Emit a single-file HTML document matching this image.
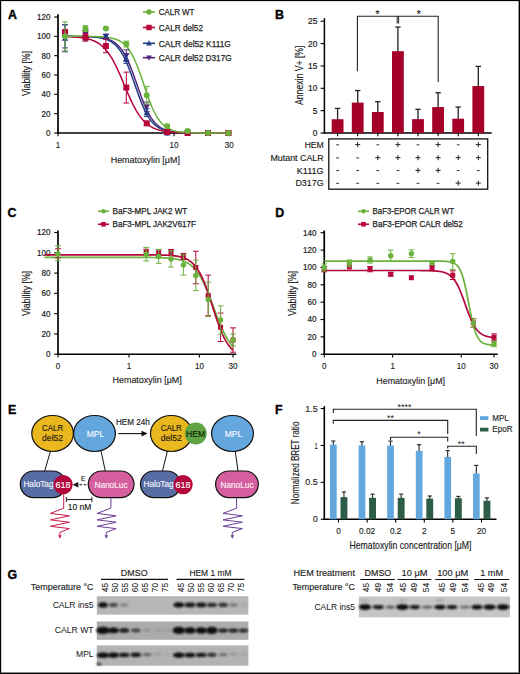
<!DOCTYPE html><html><head><meta charset="utf-8"><style>html,body{margin:0;padding:0;background:#fff;overflow:hidden;}svg{display:block;font-family:"Liberation Sans", sans-serif;}</style></head><body><svg width="520" height="674" viewBox="0 0 520 674" font-family='"Liberation Sans", sans-serif'><defs><filter id="blur" filterUnits="userSpaceOnUse" x="0" y="540" width="520" height="134"><feGaussianBlur stdDeviation="0.95"/></filter></defs><rect width="520" height="674" fill="#fff"/><text x="7.90" y="18.60" font-size="12.4" fill="#000" stroke="#000" stroke-width="0.35" font-weight="bold" >A</text>
<line x1="58.00" y1="14.30" x2="58.00" y2="133.80" stroke="#000" stroke-width="1.7" />
<line x1="57.20" y1="133.00" x2="231.70" y2="133.00" stroke="#000" stroke-width="1.7" />
<line x1="54.20" y1="133.00" x2="58.00" y2="133.00" stroke="#000" stroke-width="1.1" />
<text x="50.40" y="135.95" font-size="8.8" fill="#1c1c1c" stroke="#1c1c1c" stroke-width="0.2" text-anchor="end" textLength="4.50" lengthAdjust="spacingAndGlyphs" >0</text>
<line x1="54.20" y1="113.67" x2="58.00" y2="113.67" stroke="#000" stroke-width="1.1" />
<text x="50.40" y="116.62" font-size="8.8" fill="#1c1c1c" stroke="#1c1c1c" stroke-width="0.2" text-anchor="end" textLength="9.00" lengthAdjust="spacingAndGlyphs" >20</text>
<line x1="54.20" y1="94.33" x2="58.00" y2="94.33" stroke="#000" stroke-width="1.1" />
<text x="50.40" y="97.28" font-size="8.8" fill="#1c1c1c" stroke="#1c1c1c" stroke-width="0.2" text-anchor="end" textLength="9.00" lengthAdjust="spacingAndGlyphs" >40</text>
<line x1="54.20" y1="75.00" x2="58.00" y2="75.00" stroke="#000" stroke-width="1.1" />
<text x="50.40" y="77.95" font-size="8.8" fill="#1c1c1c" stroke="#1c1c1c" stroke-width="0.2" text-anchor="end" textLength="9.00" lengthAdjust="spacingAndGlyphs" >60</text>
<line x1="54.20" y1="55.66" x2="58.00" y2="55.66" stroke="#000" stroke-width="1.1" />
<text x="50.40" y="58.61" font-size="8.8" fill="#1c1c1c" stroke="#1c1c1c" stroke-width="0.2" text-anchor="end" textLength="9.00" lengthAdjust="spacingAndGlyphs" >80</text>
<line x1="54.20" y1="36.33" x2="58.00" y2="36.33" stroke="#000" stroke-width="1.1" />
<text x="50.40" y="39.28" font-size="8.8" fill="#1c1c1c" stroke="#1c1c1c" stroke-width="0.2" text-anchor="end" textLength="13.50" lengthAdjust="spacingAndGlyphs" >100</text>
<line x1="54.20" y1="17.00" x2="58.00" y2="17.00" stroke="#000" stroke-width="1.1" />
<text x="50.40" y="19.95" font-size="8.8" fill="#1c1c1c" stroke="#1c1c1c" stroke-width="0.2" text-anchor="end" textLength="13.50" lengthAdjust="spacingAndGlyphs" >120</text>
<line x1="58.00" y1="133.00" x2="58.00" y2="136.30" stroke="#000" stroke-width="1.1" />
<text x="58.00" y="148.10" font-size="8.8" fill="#1c1c1c" stroke="#1c1c1c" stroke-width="0.15" text-anchor="middle" textLength="4.50" lengthAdjust="spacingAndGlyphs" >1</text>
<line x1="174.00" y1="133.00" x2="174.00" y2="136.30" stroke="#000" stroke-width="1.1" />
<text x="174.00" y="148.10" font-size="8.8" fill="#1c1c1c" stroke="#1c1c1c" stroke-width="0.15" text-anchor="middle" textLength="9.00" lengthAdjust="spacingAndGlyphs" >10</text>
<line x1="229.35" y1="133.00" x2="229.35" y2="136.30" stroke="#000" stroke-width="1.1" />
<text x="229.35" y="148.10" font-size="8.8" fill="#1c1c1c" stroke="#1c1c1c" stroke-width="0.15" text-anchor="middle" textLength="9.00" lengthAdjust="spacingAndGlyphs" >30</text>
<text x="110.70" y="162.70" font-size="9.8" fill="#1c1c1c" stroke="#1c1c1c" stroke-width="0.15" textLength="69.20" lengthAdjust="spacingAndGlyphs" >Hematoxylin [μM]</text>
<text x="30.30" y="73.50" font-size="11" fill="#1c1c1c" stroke="#1c1c1c" stroke-width="0.15" text-anchor="middle" textLength="45.20" lengthAdjust="spacingAndGlyphs" transform="rotate(-90 30.30 73.50)" >Viability [%]</text>
<path d="M65.04,36.35 L66.06,36.35 L67.08,36.35 L68.11,36.36 L69.13,36.36 L70.15,36.36 L71.17,36.37 L72.19,36.37 L73.21,36.38 L74.24,36.38 L75.26,36.39 L76.28,36.40 L77.30,36.41 L78.32,36.42 L79.34,36.43 L80.37,36.44 L81.39,36.46 L82.41,36.47 L83.43,36.49 L84.45,36.51 L85.47,36.54 L86.49,36.56 L87.52,36.60 L88.54,36.63 L89.56,36.67 L90.58,36.71 L91.60,36.76 L92.62,36.82 L93.65,36.88 L94.67,36.95 L95.69,37.03 L96.71,37.12 L97.73,37.22 L98.75,37.33 L99.78,37.46 L100.80,37.61 L101.82,37.77 L102.84,37.95 L103.86,38.16 L104.88,38.39 L105.91,38.65 L106.93,38.94 L107.95,39.27 L108.97,39.63 L109.99,40.05 L111.01,40.51 L112.04,41.02 L113.06,41.59 L114.08,42.23 L115.10,42.94 L116.12,43.74 L117.14,44.61 L118.16,45.58 L119.19,46.65 L120.21,47.83 L121.23,49.12 L122.25,50.53 L123.27,52.07 L124.29,53.73 L125.32,55.54 L126.34,57.48 L127.36,59.56 L128.38,61.77 L129.40,64.12 L130.42,66.59 L131.45,69.18 L132.47,71.86 L133.49,74.64 L134.51,77.48 L135.53,80.38 L136.55,83.31 L137.58,86.25 L138.60,89.18 L139.62,92.07 L140.64,94.92 L141.66,97.69 L142.68,100.37 L143.71,102.94 L144.73,105.40 L145.75,107.74 L146.77,109.94 L147.79,112.01 L148.81,113.94 L149.83,115.73 L150.86,117.39 L151.88,118.92 L152.90,120.32 L153.92,121.60 L154.94,122.77 L155.96,123.83 L156.99,124.79 L158.01,125.66 L159.03,126.44 L160.05,127.15 L161.07,127.78 L162.09,128.35 L163.12,128.86 L164.14,129.32 L165.16,129.73 L166.18,130.09 L167.20,130.41 L168.22,130.70 L169.25,130.96 L170.27,131.19 L171.29,131.39 L172.31,131.58 L173.33,131.74 L174.35,131.88 L175.38,132.01 L176.40,132.12 L177.42,132.22 L178.44,132.31 L179.46,132.39 L180.48,132.46 L181.51,132.52 L182.53,132.57 L183.55,132.62 L184.57,132.67 L185.59,132.70 L186.61,132.74 L187.63,132.77 L188.66,132.79 L189.68,132.82 L190.70,132.84 L191.72,132.86 L192.74,132.87 L193.76,132.89 L194.79,132.90 L195.81,132.91 L196.83,132.92 L197.85,132.93 L198.87,132.94 L199.89,132.95 L200.92,132.95 L201.94,132.96 L202.96,132.96 L203.98,132.97 L205.00,132.97 L206.02,132.97 L207.05,132.98 L208.07,132.98 L209.09,132.98 L210.11,132.98 L211.13,132.99 L212.15,132.99 L213.18,132.99 L214.20,132.99 L215.22,132.99 L216.24,132.99 L217.26,132.99 L218.28,132.99 L219.30,132.99 L220.33,133.00 L221.35,133.00 L222.37,133.00 L223.39,133.00 L224.41,133.00 L225.43,133.00 L226.46,133.00 L227.48,133.00 L228.50,133.00" stroke="#55287e" stroke-width="1.5" fill="none" />
<path d="M65.04,36.35 L66.06,36.36 L67.08,36.36 L68.11,36.36 L69.13,36.37 L70.15,36.37 L71.17,36.38 L72.19,36.39 L73.21,36.39 L74.24,36.40 L75.26,36.41 L76.28,36.42 L77.30,36.43 L78.32,36.44 L79.34,36.46 L80.37,36.48 L81.39,36.50 L82.41,36.52 L83.43,36.54 L84.45,36.57 L85.47,36.60 L86.49,36.63 L87.52,36.67 L88.54,36.72 L89.56,36.77 L90.58,36.82 L91.60,36.89 L92.62,36.96 L93.65,37.04 L94.67,37.13 L95.69,37.23 L96.71,37.34 L97.73,37.47 L98.75,37.62 L99.78,37.79 L100.80,37.97 L101.82,38.18 L102.84,38.41 L103.86,38.68 L104.88,38.97 L105.91,39.30 L106.93,39.67 L107.95,40.09 L108.97,40.55 L109.99,41.07 L111.01,41.65 L112.04,42.30 L113.06,43.02 L114.08,43.82 L115.10,44.70 L116.12,45.68 L117.14,46.76 L118.16,47.95 L119.19,49.25 L120.21,50.67 L121.23,52.22 L122.25,53.91 L123.27,55.72 L124.29,57.68 L125.32,59.77 L126.34,62.00 L127.36,64.36 L128.38,66.84 L129.40,69.44 L130.42,72.13 L131.45,74.92 L132.47,77.77 L133.49,80.67 L134.51,83.60 L135.53,86.54 L136.55,89.47 L137.58,92.36 L138.60,95.19 L139.62,97.95 L140.64,100.62 L141.66,103.19 L142.68,105.64 L143.71,107.96 L144.73,110.15 L145.75,112.21 L146.77,114.12 L147.79,115.90 L148.81,117.55 L149.83,119.06 L150.86,120.45 L151.88,121.72 L152.90,122.88 L153.92,123.93 L154.94,124.88 L155.96,125.74 L156.99,126.52 L158.01,127.22 L159.03,127.84 L160.05,128.41 L161.07,128.91 L162.09,129.36 L163.12,129.76 L164.14,130.12 L165.16,130.44 L166.18,130.73 L167.20,130.98 L168.22,131.21 L169.25,131.41 L170.27,131.59 L171.29,131.75 L172.31,131.89 L173.33,132.02 L174.35,132.13 L175.38,132.23 L176.40,132.32 L177.42,132.39 L178.44,132.46 L179.46,132.52 L180.48,132.58 L181.51,132.63 L182.53,132.67 L183.55,132.71 L184.57,132.74 L185.59,132.77 L186.61,132.80 L187.63,132.82 L188.66,132.84 L189.68,132.86 L190.70,132.87 L191.72,132.89 L192.74,132.90 L193.76,132.91 L194.79,132.92 L195.81,132.93 L196.83,132.94 L197.85,132.95 L198.87,132.95 L199.89,132.96 L200.92,132.96 L201.94,132.97 L202.96,132.97 L203.98,132.97 L205.00,132.98 L206.02,132.98 L207.05,132.98 L208.07,132.98 L209.09,132.99 L210.11,132.99 L211.13,132.99 L212.15,132.99 L213.18,132.99 L214.20,132.99 L215.22,132.99 L216.24,132.99 L217.26,132.99 L218.28,133.00 L219.30,133.00 L220.33,133.00 L221.35,133.00 L222.37,133.00 L223.39,133.00 L224.41,133.00 L225.43,133.00 L226.46,133.00 L227.48,133.00 L228.50,133.00" stroke="#243f88" stroke-width="1.5" fill="none" />
<path d="M65.04,36.60 L66.06,36.63 L67.08,36.66 L68.11,36.70 L69.13,36.74 L70.15,36.78 L71.17,36.83 L72.19,36.88 L73.21,36.94 L74.24,37.01 L75.26,37.08 L76.28,37.16 L77.30,37.24 L78.32,37.34 L79.34,37.45 L80.37,37.56 L81.39,37.69 L82.41,37.84 L83.43,37.99 L84.45,38.17 L85.47,38.36 L86.49,38.57 L87.52,38.81 L88.54,39.06 L89.56,39.34 L90.58,39.65 L91.60,40.00 L92.62,40.37 L93.65,40.78 L94.67,41.23 L95.69,41.73 L96.71,42.27 L97.73,42.86 L98.75,43.50 L99.78,44.21 L100.80,44.97 L101.82,45.80 L102.84,46.71 L103.86,47.68 L104.88,48.74 L105.91,49.88 L106.93,51.10 L107.95,52.42 L108.97,53.82 L109.99,55.32 L111.01,56.92 L112.04,58.61 L113.06,60.40 L114.08,62.27 L115.10,64.24 L116.12,66.30 L117.14,68.43 L118.16,70.64 L119.19,72.92 L120.21,75.25 L121.23,77.63 L122.25,80.05 L123.27,82.48 L124.29,84.93 L125.32,87.38 L126.34,89.81 L127.36,92.22 L128.38,94.59 L129.40,96.91 L130.42,99.17 L131.45,101.37 L132.47,103.49 L133.49,105.52 L134.51,107.47 L135.53,109.33 L136.55,111.10 L137.58,112.77 L138.60,114.34 L139.62,115.82 L140.64,117.21 L141.66,118.50 L142.68,119.71 L143.71,120.83 L144.73,121.87 L145.75,122.83 L146.77,123.71 L147.79,124.53 L148.81,125.28 L149.83,125.97 L150.86,126.60 L151.88,127.18 L152.90,127.71 L153.92,128.20 L154.94,128.64 L155.96,129.04 L156.99,129.41 L158.01,129.75 L159.03,130.05 L160.05,130.33 L161.07,130.58 L162.09,130.81 L163.12,131.01 L164.14,131.20 L165.16,131.37 L166.18,131.53 L167.20,131.67 L168.22,131.79 L169.25,131.91 L170.27,132.01 L171.29,132.11 L172.31,132.19 L173.33,132.27 L174.35,132.34 L175.38,132.40 L176.40,132.46 L177.42,132.51 L178.44,132.56 L179.46,132.60 L180.48,132.64 L181.51,132.67 L182.53,132.71 L183.55,132.73 L184.57,132.76 L185.59,132.78 L186.61,132.80 L187.63,132.82 L188.66,132.84 L189.68,132.85 L190.70,132.87 L191.72,132.88 L192.74,132.89 L193.76,132.90 L194.79,132.91 L195.81,132.92 L196.83,132.93 L197.85,132.94 L198.87,132.94 L199.89,132.95 L200.92,132.95 L201.94,132.96 L202.96,132.96 L203.98,132.96 L205.00,132.97 L206.02,132.97 L207.05,132.97 L208.07,132.98 L209.09,132.98 L210.11,132.98 L211.13,132.98 L212.15,132.98 L213.18,132.99 L214.20,132.99 L215.22,132.99 L216.24,132.99 L217.26,132.99 L218.28,132.99 L219.30,132.99 L220.33,132.99 L221.35,132.99 L222.37,132.99 L223.39,132.99 L224.41,133.00 L225.43,133.00 L226.46,133.00 L227.48,133.00 L228.50,133.00" stroke="#b5053a" stroke-width="1.5" fill="none" />
<path d="M65.04,36.34 L66.06,36.34 L67.08,36.34 L68.11,36.34 L69.13,36.34 L70.15,36.34 L71.17,36.34 L72.19,36.34 L73.21,36.35 L74.24,36.35 L75.26,36.35 L76.28,36.35 L77.30,36.36 L78.32,36.36 L79.34,36.36 L80.37,36.37 L81.39,36.37 L82.41,36.38 L83.43,36.39 L84.45,36.39 L85.47,36.40 L86.49,36.41 L87.52,36.42 L88.54,36.44 L89.56,36.45 L90.58,36.47 L91.60,36.49 L92.62,36.51 L93.65,36.53 L94.67,36.56 L95.69,36.59 L96.71,36.62 L97.73,36.66 L98.75,36.70 L99.78,36.75 L100.80,36.81 L101.82,36.87 L102.84,36.95 L103.86,37.03 L104.88,37.12 L105.91,37.22 L106.93,37.34 L107.95,37.48 L108.97,37.63 L109.99,37.80 L111.01,37.99 L112.04,38.21 L113.06,38.46 L114.08,38.74 L115.10,39.05 L116.12,39.40 L117.14,39.80 L118.16,40.25 L119.19,40.75 L120.21,41.31 L121.23,41.94 L122.25,42.64 L123.27,43.42 L124.29,44.29 L125.32,45.26 L126.34,46.33 L127.36,47.52 L128.38,48.82 L129.40,50.26 L130.42,51.82 L131.45,53.53 L132.47,55.38 L133.49,57.38 L134.51,59.52 L135.53,61.81 L136.55,64.24 L137.58,66.80 L138.60,69.48 L139.62,72.27 L140.64,75.15 L141.66,78.10 L142.68,81.11 L143.71,84.14 L144.73,87.18 L145.75,90.19 L146.77,93.17 L147.79,96.07 L148.81,98.90 L149.83,101.62 L150.86,104.22 L151.88,106.70 L152.90,109.03 L153.92,111.23 L154.94,113.28 L155.96,115.18 L156.99,116.93 L158.01,118.55 L159.03,120.03 L160.05,121.37 L161.07,122.60 L162.09,123.71 L163.12,124.71 L164.14,125.62 L165.16,126.43 L166.18,127.16 L167.20,127.81 L168.22,128.40 L169.25,128.92 L170.27,129.38 L171.29,129.80 L172.31,130.16 L173.33,130.49 L174.35,130.78 L175.38,131.04 L176.40,131.26 L177.42,131.47 L178.44,131.64 L179.46,131.80 L180.48,131.94 L181.51,132.07 L182.53,132.18 L183.55,132.27 L184.57,132.36 L185.59,132.43 L186.61,132.50 L187.63,132.56 L188.66,132.61 L189.68,132.66 L190.70,132.70 L191.72,132.73 L192.74,132.76 L193.76,132.79 L194.79,132.82 L195.81,132.84 L196.83,132.86 L197.85,132.87 L198.87,132.89 L199.89,132.90 L200.92,132.91 L201.94,132.92 L202.96,132.93 L203.98,132.94 L205.00,132.95 L206.02,132.95 L207.05,132.96 L208.07,132.96 L209.09,132.97 L210.11,132.97 L211.13,132.98 L212.15,132.98 L213.18,132.98 L214.20,132.98 L215.22,132.99 L216.24,132.99 L217.26,132.99 L218.28,132.99 L219.30,132.99 L220.33,132.99 L221.35,132.99 L222.37,132.99 L223.39,132.99 L224.41,133.00 L225.43,133.00 L226.46,133.00 L227.48,133.00 L228.50,133.00" stroke="#6ab23c" stroke-width="1.5" fill="none" />
<line x1="65.04" y1="24.73" x2="65.04" y2="47.93" stroke="#55287e" stroke-width="1.0" />
<line x1="62.14" y1="24.73" x2="67.94" y2="24.73" stroke="#55287e" stroke-width="1.0" />
<line x1="62.14" y1="47.93" x2="67.94" y2="47.93" stroke="#55287e" stroke-width="1.0" />
<polygon points="65.04,39.63 68.19,33.78 61.89,33.78" fill="#55287e"/>
<line x1="85.47" y1="30.53" x2="85.47" y2="38.26" stroke="#55287e" stroke-width="1.0" />
<line x1="82.57" y1="30.53" x2="88.37" y2="30.53" stroke="#55287e" stroke-width="1.0" />
<line x1="82.57" y1="38.26" x2="88.37" y2="38.26" stroke="#55287e" stroke-width="1.0" />
<polygon points="85.47,37.70 88.62,31.85 82.32,31.85" fill="#55287e"/>
<line x1="105.89" y1="34.40" x2="105.89" y2="38.26" stroke="#55287e" stroke-width="1.0" />
<line x1="102.99" y1="34.40" x2="108.79" y2="34.40" stroke="#55287e" stroke-width="1.0" />
<line x1="102.99" y1="38.26" x2="108.79" y2="38.26" stroke="#55287e" stroke-width="1.0" />
<polygon points="105.89,39.63 109.04,33.78 102.74,33.78" fill="#55287e"/>
<line x1="126.32" y1="49.86" x2="126.32" y2="61.46" stroke="#55287e" stroke-width="1.0" />
<line x1="123.42" y1="49.86" x2="129.22" y2="49.86" stroke="#55287e" stroke-width="1.0" />
<line x1="123.42" y1="61.46" x2="129.22" y2="61.46" stroke="#55287e" stroke-width="1.0" />
<polygon points="126.32,58.96 129.47,53.11 123.17,53.11" fill="#55287e"/>
<line x1="146.75" y1="102.07" x2="146.75" y2="111.73" stroke="#55287e" stroke-width="1.0" />
<line x1="143.85" y1="102.07" x2="149.65" y2="102.07" stroke="#55287e" stroke-width="1.0" />
<line x1="143.85" y1="111.73" x2="149.65" y2="111.73" stroke="#55287e" stroke-width="1.0" />
<polygon points="146.75,110.20 149.90,104.35 143.60,104.35" fill="#55287e"/>
<line x1="167.17" y1="132.03" x2="167.17" y2="133.97" stroke="#55287e" stroke-width="1.0" />
<line x1="164.27" y1="132.03" x2="170.07" y2="132.03" stroke="#55287e" stroke-width="1.0" />
<line x1="164.27" y1="133.97" x2="170.07" y2="133.97" stroke="#55287e" stroke-width="1.0" />
<polygon points="167.17,136.30 170.32,130.45 164.02,130.45" fill="#55287e"/>
<polygon points="187.60,136.30 190.75,130.45 184.45,130.45" fill="#55287e"/>
<polygon points="208.03,136.30 211.18,130.45 204.88,130.45" fill="#55287e"/>
<polygon points="228.45,136.30 231.60,130.45 225.30,130.45" fill="#55287e"/>
<line x1="65.04" y1="24.73" x2="65.04" y2="51.80" stroke="#243f88" stroke-width="1.0" />
<line x1="62.14" y1="24.73" x2="67.94" y2="24.73" stroke="#243f88" stroke-width="1.0" />
<line x1="62.14" y1="51.80" x2="67.94" y2="51.80" stroke="#243f88" stroke-width="1.0" />
<polygon points="65.04,34.96 68.19,40.81 61.89,40.81" fill="#243f88"/>
<line x1="85.47" y1="30.53" x2="85.47" y2="40.20" stroke="#243f88" stroke-width="1.0" />
<line x1="82.57" y1="30.53" x2="88.37" y2="30.53" stroke="#243f88" stroke-width="1.0" />
<line x1="82.57" y1="40.20" x2="88.37" y2="40.20" stroke="#243f88" stroke-width="1.0" />
<polygon points="85.47,32.06 88.62,37.91 82.32,37.91" fill="#243f88"/>
<line x1="105.89" y1="34.40" x2="105.89" y2="38.26" stroke="#243f88" stroke-width="1.0" />
<line x1="102.99" y1="34.40" x2="108.79" y2="34.40" stroke="#243f88" stroke-width="1.0" />
<line x1="102.99" y1="38.26" x2="108.79" y2="38.26" stroke="#243f88" stroke-width="1.0" />
<polygon points="105.89,33.03 109.04,38.88 102.74,38.88" fill="#243f88"/>
<line x1="126.32" y1="53.73" x2="126.32" y2="63.40" stroke="#243f88" stroke-width="1.0" />
<line x1="123.42" y1="53.73" x2="129.22" y2="53.73" stroke="#243f88" stroke-width="1.0" />
<line x1="123.42" y1="63.40" x2="129.22" y2="63.40" stroke="#243f88" stroke-width="1.0" />
<polygon points="126.32,55.26 129.47,61.11 123.17,61.11" fill="#243f88"/>
<line x1="146.75" y1="108.83" x2="146.75" y2="116.57" stroke="#243f88" stroke-width="1.0" />
<line x1="143.85" y1="108.83" x2="149.65" y2="108.83" stroke="#243f88" stroke-width="1.0" />
<line x1="143.85" y1="116.57" x2="149.65" y2="116.57" stroke="#243f88" stroke-width="1.0" />
<polygon points="146.75,109.40 149.90,115.25 143.60,115.25" fill="#243f88"/>
<line x1="167.17" y1="132.03" x2="167.17" y2="133.97" stroke="#243f88" stroke-width="1.0" />
<line x1="164.27" y1="132.03" x2="170.07" y2="132.03" stroke="#243f88" stroke-width="1.0" />
<line x1="164.27" y1="133.97" x2="170.07" y2="133.97" stroke="#243f88" stroke-width="1.0" />
<polygon points="167.17,129.70 170.32,135.55 164.02,135.55" fill="#243f88"/>
<polygon points="187.60,129.70 190.75,135.55 184.45,135.55" fill="#243f88"/>
<polygon points="208.03,129.70 211.18,135.55 204.88,135.55" fill="#243f88"/>
<polygon points="228.45,129.70 231.60,135.55 225.30,135.55" fill="#243f88"/>
<line x1="65.04" y1="29.56" x2="65.04" y2="35.36" stroke="#b5053a" stroke-width="1.0" />
<line x1="62.14" y1="29.56" x2="67.94" y2="29.56" stroke="#b5053a" stroke-width="1.0" />
<line x1="62.14" y1="35.36" x2="67.94" y2="35.36" stroke="#b5053a" stroke-width="1.0" />
<rect x="62.04" y="29.46" width="6.00" height="6.00" fill="#b5053a" />
<line x1="85.47" y1="33.43" x2="85.47" y2="41.16" stroke="#b5053a" stroke-width="1.0" />
<line x1="82.57" y1="33.43" x2="88.37" y2="33.43" stroke="#b5053a" stroke-width="1.0" />
<line x1="82.57" y1="41.16" x2="88.37" y2="41.16" stroke="#b5053a" stroke-width="1.0" />
<rect x="82.47" y="34.30" width="6.00" height="6.00" fill="#b5053a" />
<line x1="105.89" y1="39.23" x2="105.89" y2="52.76" stroke="#b5053a" stroke-width="1.0" />
<line x1="102.99" y1="39.23" x2="108.79" y2="39.23" stroke="#b5053a" stroke-width="1.0" />
<line x1="102.99" y1="52.76" x2="108.79" y2="52.76" stroke="#b5053a" stroke-width="1.0" />
<rect x="102.89" y="43.00" width="6.00" height="6.00" fill="#b5053a" />
<line x1="126.32" y1="72.10" x2="126.32" y2="103.03" stroke="#b5053a" stroke-width="1.0" />
<line x1="123.42" y1="72.10" x2="129.22" y2="72.10" stroke="#b5053a" stroke-width="1.0" />
<line x1="123.42" y1="103.03" x2="129.22" y2="103.03" stroke="#b5053a" stroke-width="1.0" />
<rect x="123.32" y="84.57" width="6.00" height="6.00" fill="#b5053a" />
<line x1="146.75" y1="121.40" x2="146.75" y2="125.27" stroke="#b5053a" stroke-width="1.0" />
<line x1="143.85" y1="121.40" x2="149.65" y2="121.40" stroke="#b5053a" stroke-width="1.0" />
<line x1="143.85" y1="125.27" x2="149.65" y2="125.27" stroke="#b5053a" stroke-width="1.0" />
<rect x="143.75" y="120.33" width="6.00" height="6.00" fill="#b5053a" />
<line x1="167.17" y1="131.07" x2="167.17" y2="133.00" stroke="#b5053a" stroke-width="1.0" />
<line x1="164.27" y1="131.07" x2="170.07" y2="131.07" stroke="#b5053a" stroke-width="1.0" />
<line x1="164.27" y1="133.00" x2="170.07" y2="133.00" stroke="#b5053a" stroke-width="1.0" />
<rect x="164.17" y="129.03" width="6.00" height="6.00" fill="#b5053a" />
<rect x="184.60" y="130.00" width="6.00" height="6.00" fill="#b5053a" />
<rect x="205.03" y="130.00" width="6.00" height="6.00" fill="#b5053a" />
<rect x="225.45" y="130.00" width="6.00" height="6.00" fill="#b5053a" />
<line x1="65.04" y1="21.83" x2="65.04" y2="50.83" stroke="#6ab23c" stroke-width="1.0" />
<line x1="62.14" y1="21.83" x2="67.94" y2="21.83" stroke="#6ab23c" stroke-width="1.0" />
<line x1="62.14" y1="50.83" x2="67.94" y2="50.83" stroke="#6ab23c" stroke-width="1.0" />
<circle cx="65.04" cy="36.33" r="3.00" fill="#6ab23c"/>
<line x1="85.47" y1="25.70" x2="85.47" y2="31.50" stroke="#6ab23c" stroke-width="1.0" />
<line x1="82.57" y1="25.70" x2="88.37" y2="25.70" stroke="#6ab23c" stroke-width="1.0" />
<line x1="82.57" y1="31.50" x2="88.37" y2="31.50" stroke="#6ab23c" stroke-width="1.0" />
<circle cx="85.47" cy="28.60" r="3.00" fill="#6ab23c"/>
<line x1="105.89" y1="27.63" x2="105.89" y2="29.56" stroke="#6ab23c" stroke-width="1.0" />
<line x1="102.99" y1="27.63" x2="108.79" y2="27.63" stroke="#6ab23c" stroke-width="1.0" />
<line x1="102.99" y1="29.56" x2="108.79" y2="29.56" stroke="#6ab23c" stroke-width="1.0" />
<circle cx="105.89" cy="28.60" r="3.00" fill="#6ab23c"/>
<line x1="126.32" y1="41.16" x2="126.32" y2="46.96" stroke="#6ab23c" stroke-width="1.0" />
<line x1="123.42" y1="41.16" x2="129.22" y2="41.16" stroke="#6ab23c" stroke-width="1.0" />
<line x1="123.42" y1="46.96" x2="129.22" y2="46.96" stroke="#6ab23c" stroke-width="1.0" />
<circle cx="126.32" cy="44.06" r="3.00" fill="#6ab23c"/>
<line x1="146.75" y1="86.60" x2="146.75" y2="104.00" stroke="#6ab23c" stroke-width="1.0" />
<line x1="143.85" y1="86.60" x2="149.65" y2="86.60" stroke="#6ab23c" stroke-width="1.0" />
<line x1="143.85" y1="104.00" x2="149.65" y2="104.00" stroke="#6ab23c" stroke-width="1.0" />
<circle cx="146.75" cy="95.30" r="3.00" fill="#6ab23c"/>
<line x1="167.17" y1="124.30" x2="167.17" y2="128.17" stroke="#6ab23c" stroke-width="1.0" />
<line x1="164.27" y1="124.30" x2="170.07" y2="124.30" stroke="#6ab23c" stroke-width="1.0" />
<line x1="164.27" y1="128.17" x2="170.07" y2="128.17" stroke="#6ab23c" stroke-width="1.0" />
<circle cx="167.17" cy="126.23" r="3.00" fill="#6ab23c"/>
<line x1="187.60" y1="130.10" x2="187.60" y2="132.03" stroke="#6ab23c" stroke-width="1.0" />
<line x1="184.70" y1="130.10" x2="190.50" y2="130.10" stroke="#6ab23c" stroke-width="1.0" />
<line x1="184.70" y1="132.03" x2="190.50" y2="132.03" stroke="#6ab23c" stroke-width="1.0" />
<circle cx="187.60" cy="131.07" r="3.00" fill="#6ab23c"/>
<circle cx="208.03" cy="133.00" r="3.00" fill="#6ab23c"/>
<circle cx="228.45" cy="133.00" r="3.00" fill="#6ab23c"/>
<line x1="142.90" y1="11.90" x2="155.00" y2="11.90" stroke="#6ab23c" stroke-width="1.6" />
<circle cx="149.00" cy="11.90" r="2.70" fill="#6ab23c"/>
<text x="158.80" y="15.30" font-size="9.4" fill="#1e1e1e" stroke="#1e1e1e" stroke-width="0.25" textLength="35.60" lengthAdjust="spacingAndGlyphs" >CALR WT</text>
<line x1="142.90" y1="27.50" x2="155.00" y2="27.50" stroke="#b5053a" stroke-width="1.6" />
<rect x="146.30" y="24.80" width="5.40" height="5.40" fill="#b5053a" />
<text x="158.80" y="30.90" font-size="9.4" fill="#1e1e1e" stroke="#1e1e1e" stroke-width="0.25" textLength="44.20" lengthAdjust="spacingAndGlyphs" >CALR del52</text>
<line x1="142.90" y1="43.30" x2="155.00" y2="43.30" stroke="#243f88" stroke-width="1.6" />
<polygon points="149.00,40.33 151.84,45.59 146.16,45.59" fill="#243f88"/>
<text x="158.80" y="46.70" font-size="9.4" fill="#1e1e1e" stroke="#1e1e1e" stroke-width="0.25" textLength="72.00" lengthAdjust="spacingAndGlyphs" >CALR del52 K111G</text>
<line x1="142.90" y1="57.70" x2="155.00" y2="57.70" stroke="#55287e" stroke-width="1.6" />
<polygon points="149.00,60.67 151.84,55.41 146.16,55.41" fill="#55287e"/>
<text x="158.80" y="61.10" font-size="9.4" fill="#1e1e1e" stroke="#1e1e1e" stroke-width="0.25" textLength="72.90" lengthAdjust="spacingAndGlyphs" >CALR del52 D317G</text>
<text x="275.00" y="18.60" font-size="12.4" fill="#000" stroke="#000" stroke-width="0.35" font-weight="bold" >B</text>
<line x1="324.40" y1="18.20" x2="324.40" y2="133.80" stroke="#000" stroke-width="1.5" />
<line x1="323.70" y1="133.00" x2="491.70" y2="133.00" stroke="#000" stroke-width="1.6" />
<line x1="320.60" y1="133.00" x2="324.40" y2="133.00" stroke="#000" stroke-width="1.1" />
<text x="317.30" y="135.95" font-size="8.6" fill="#1c1c1c" stroke="#1c1c1c" stroke-width="0.2" text-anchor="end" textLength="4.65" lengthAdjust="spacingAndGlyphs" >0</text>
<line x1="320.60" y1="110.65" x2="324.40" y2="110.65" stroke="#000" stroke-width="1.1" />
<text x="317.30" y="113.60" font-size="8.6" fill="#1c1c1c" stroke="#1c1c1c" stroke-width="0.2" text-anchor="end" textLength="4.65" lengthAdjust="spacingAndGlyphs" >5</text>
<line x1="320.60" y1="88.30" x2="324.40" y2="88.30" stroke="#000" stroke-width="1.1" />
<text x="317.30" y="91.25" font-size="8.6" fill="#1c1c1c" stroke="#1c1c1c" stroke-width="0.2" text-anchor="end" textLength="9.30" lengthAdjust="spacingAndGlyphs" >10</text>
<line x1="320.60" y1="65.95" x2="324.40" y2="65.95" stroke="#000" stroke-width="1.1" />
<text x="317.30" y="68.90" font-size="8.6" fill="#1c1c1c" stroke="#1c1c1c" stroke-width="0.2" text-anchor="end" textLength="9.30" lengthAdjust="spacingAndGlyphs" >15</text>
<line x1="320.60" y1="43.60" x2="324.40" y2="43.60" stroke="#000" stroke-width="1.1" />
<text x="317.30" y="46.55" font-size="8.6" fill="#1c1c1c" stroke="#1c1c1c" stroke-width="0.2" text-anchor="end" textLength="9.30" lengthAdjust="spacingAndGlyphs" >20</text>
<line x1="320.60" y1="21.25" x2="324.40" y2="21.25" stroke="#000" stroke-width="1.1" />
<text x="317.30" y="24.20" font-size="8.6" fill="#1c1c1c" stroke="#1c1c1c" stroke-width="0.2" text-anchor="end" textLength="9.30" lengthAdjust="spacingAndGlyphs" >25</text>
<line x1="337.60" y1="108.42" x2="337.60" y2="120.23" stroke="#222" stroke-width="1.3" />
<line x1="334.90" y1="108.42" x2="340.30" y2="108.42" stroke="#222" stroke-width="1.3" />
<rect x="331.70" y="119.23" width="11.80" height="13.77" fill="#a50028" />
<line x1="337.60" y1="133.00" x2="337.60" y2="136.20" stroke="#000" stroke-width="1.1" />
<line x1="357.70" y1="90.53" x2="357.70" y2="103.60" stroke="#222" stroke-width="1.3" />
<line x1="355.00" y1="90.53" x2="360.40" y2="90.53" stroke="#222" stroke-width="1.3" />
<rect x="351.80" y="102.60" width="11.80" height="30.40" fill="#a50028" />
<line x1="357.70" y1="133.00" x2="357.70" y2="136.20" stroke="#000" stroke-width="1.1" />
<line x1="377.80" y1="101.71" x2="377.80" y2="112.99" stroke="#222" stroke-width="1.3" />
<line x1="375.10" y1="101.71" x2="380.50" y2="101.71" stroke="#222" stroke-width="1.3" />
<rect x="371.90" y="111.99" width="11.80" height="21.01" fill="#a50028" />
<line x1="377.80" y1="133.00" x2="377.80" y2="136.20" stroke="#000" stroke-width="1.1" />
<line x1="397.90" y1="27.06" x2="397.90" y2="52.20" stroke="#222" stroke-width="1.3" />
<line x1="395.20" y1="27.06" x2="400.60" y2="27.06" stroke="#222" stroke-width="1.3" />
<rect x="392.00" y="51.20" width="11.80" height="81.80" fill="#a50028" />
<line x1="397.90" y1="133.00" x2="397.90" y2="136.20" stroke="#000" stroke-width="1.1" />
<line x1="418.00" y1="109.31" x2="418.00" y2="120.14" stroke="#222" stroke-width="1.3" />
<line x1="415.30" y1="109.31" x2="420.70" y2="109.31" stroke="#222" stroke-width="1.3" />
<rect x="412.10" y="119.14" width="11.80" height="13.86" fill="#a50028" />
<line x1="418.00" y1="133.00" x2="418.00" y2="136.20" stroke="#000" stroke-width="1.1" />
<line x1="438.10" y1="92.77" x2="438.10" y2="108.07" stroke="#222" stroke-width="1.3" />
<line x1="435.40" y1="92.77" x2="440.80" y2="92.77" stroke="#222" stroke-width="1.3" />
<rect x="432.20" y="107.07" width="11.80" height="25.93" fill="#a50028" />
<line x1="438.10" y1="133.00" x2="438.10" y2="136.20" stroke="#000" stroke-width="1.1" />
<line x1="458.20" y1="107.07" x2="458.20" y2="119.70" stroke="#222" stroke-width="1.3" />
<line x1="455.50" y1="107.07" x2="460.90" y2="107.07" stroke="#222" stroke-width="1.3" />
<rect x="452.30" y="118.70" width="11.80" height="14.30" fill="#a50028" />
<line x1="458.20" y1="133.00" x2="458.20" y2="136.20" stroke="#000" stroke-width="1.1" />
<line x1="478.30" y1="66.40" x2="478.30" y2="87.06" stroke="#222" stroke-width="1.3" />
<line x1="475.60" y1="66.40" x2="481.00" y2="66.40" stroke="#222" stroke-width="1.3" />
<rect x="472.40" y="86.06" width="11.80" height="46.94" fill="#a50028" />
<line x1="478.30" y1="133.00" x2="478.30" y2="136.20" stroke="#000" stroke-width="1.1" />
<rect x="328.8" y="138.9" width="158.9" height="50.3" fill="none" stroke="#111" stroke-width="1.3"/>
<text x="323.70" y="147.80" font-size="8.9" fill="#1a1a1a" stroke="#1a1a1a" stroke-width="0.15" text-anchor="end" textLength="19.00" lengthAdjust="spacingAndGlyphs" >HEM</text>
<line x1="336.20" y1="144.80" x2="339.00" y2="144.80" stroke="#333" stroke-width="1.0" />
<line x1="355.20" y1="144.60" x2="360.20" y2="144.60" stroke="#222" stroke-width="1.0" />
<line x1="357.70" y1="142.10" x2="357.70" y2="147.10" stroke="#222" stroke-width="1.0" />
<line x1="376.40" y1="144.80" x2="379.20" y2="144.80" stroke="#333" stroke-width="1.0" />
<line x1="395.40" y1="144.60" x2="400.40" y2="144.60" stroke="#222" stroke-width="1.0" />
<line x1="397.90" y1="142.10" x2="397.90" y2="147.10" stroke="#222" stroke-width="1.0" />
<line x1="416.60" y1="144.80" x2="419.40" y2="144.80" stroke="#333" stroke-width="1.0" />
<line x1="435.60" y1="144.60" x2="440.60" y2="144.60" stroke="#222" stroke-width="1.0" />
<line x1="438.10" y1="142.10" x2="438.10" y2="147.10" stroke="#222" stroke-width="1.0" />
<line x1="456.80" y1="144.80" x2="459.60" y2="144.80" stroke="#333" stroke-width="1.0" />
<line x1="475.80" y1="144.60" x2="480.80" y2="144.60" stroke="#222" stroke-width="1.0" />
<line x1="478.30" y1="142.10" x2="478.30" y2="147.10" stroke="#222" stroke-width="1.0" />
<text x="323.70" y="160.90" font-size="8.9" fill="#1a1a1a" stroke="#1a1a1a" stroke-width="0.15" text-anchor="end" textLength="53.30" lengthAdjust="spacingAndGlyphs" >Mutant CALR</text>
<line x1="336.20" y1="157.90" x2="339.00" y2="157.90" stroke="#333" stroke-width="1.0" />
<line x1="356.30" y1="157.90" x2="359.10" y2="157.90" stroke="#333" stroke-width="1.0" />
<line x1="375.30" y1="157.70" x2="380.30" y2="157.70" stroke="#222" stroke-width="1.0" />
<line x1="377.80" y1="155.20" x2="377.80" y2="160.20" stroke="#222" stroke-width="1.0" />
<line x1="395.40" y1="157.70" x2="400.40" y2="157.70" stroke="#222" stroke-width="1.0" />
<line x1="397.90" y1="155.20" x2="397.90" y2="160.20" stroke="#222" stroke-width="1.0" />
<line x1="415.50" y1="157.70" x2="420.50" y2="157.70" stroke="#222" stroke-width="1.0" />
<line x1="418.00" y1="155.20" x2="418.00" y2="160.20" stroke="#222" stroke-width="1.0" />
<line x1="435.60" y1="157.70" x2="440.60" y2="157.70" stroke="#222" stroke-width="1.0" />
<line x1="438.10" y1="155.20" x2="438.10" y2="160.20" stroke="#222" stroke-width="1.0" />
<line x1="455.70" y1="157.70" x2="460.70" y2="157.70" stroke="#222" stroke-width="1.0" />
<line x1="458.20" y1="155.20" x2="458.20" y2="160.20" stroke="#222" stroke-width="1.0" />
<line x1="475.80" y1="157.70" x2="480.80" y2="157.70" stroke="#222" stroke-width="1.0" />
<line x1="478.30" y1="155.20" x2="478.30" y2="160.20" stroke="#222" stroke-width="1.0" />
<text x="323.70" y="173.60" font-size="8.9" fill="#1a1a1a" stroke="#1a1a1a" stroke-width="0.15" text-anchor="end" textLength="27.00" lengthAdjust="spacingAndGlyphs" >K111G</text>
<line x1="336.20" y1="170.60" x2="339.00" y2="170.60" stroke="#333" stroke-width="1.0" />
<line x1="356.30" y1="170.60" x2="359.10" y2="170.60" stroke="#333" stroke-width="1.0" />
<line x1="376.40" y1="170.60" x2="379.20" y2="170.60" stroke="#333" stroke-width="1.0" />
<line x1="396.50" y1="170.60" x2="399.30" y2="170.60" stroke="#333" stroke-width="1.0" />
<line x1="415.50" y1="170.40" x2="420.50" y2="170.40" stroke="#222" stroke-width="1.0" />
<line x1="418.00" y1="167.90" x2="418.00" y2="172.90" stroke="#222" stroke-width="1.0" />
<line x1="435.60" y1="170.40" x2="440.60" y2="170.40" stroke="#222" stroke-width="1.0" />
<line x1="438.10" y1="167.90" x2="438.10" y2="172.90" stroke="#222" stroke-width="1.0" />
<line x1="456.80" y1="170.60" x2="459.60" y2="170.60" stroke="#333" stroke-width="1.0" />
<line x1="476.90" y1="170.60" x2="479.70" y2="170.60" stroke="#333" stroke-width="1.0" />
<text x="323.70" y="186.30" font-size="8.9" fill="#1a1a1a" stroke="#1a1a1a" stroke-width="0.15" text-anchor="end" textLength="28.30" lengthAdjust="spacingAndGlyphs" >D317G</text>
<line x1="336.20" y1="183.30" x2="339.00" y2="183.30" stroke="#333" stroke-width="1.0" />
<line x1="356.30" y1="183.30" x2="359.10" y2="183.30" stroke="#333" stroke-width="1.0" />
<line x1="376.40" y1="183.30" x2="379.20" y2="183.30" stroke="#333" stroke-width="1.0" />
<line x1="396.50" y1="183.30" x2="399.30" y2="183.30" stroke="#333" stroke-width="1.0" />
<line x1="416.60" y1="183.30" x2="419.40" y2="183.30" stroke="#333" stroke-width="1.0" />
<line x1="436.70" y1="183.30" x2="439.50" y2="183.30" stroke="#333" stroke-width="1.0" />
<line x1="455.70" y1="183.10" x2="460.70" y2="183.10" stroke="#222" stroke-width="1.0" />
<line x1="458.20" y1="180.60" x2="458.20" y2="185.60" stroke="#222" stroke-width="1.0" />
<line x1="475.80" y1="183.10" x2="480.80" y2="183.10" stroke="#222" stroke-width="1.0" />
<line x1="478.30" y1="180.60" x2="478.30" y2="185.60" stroke="#222" stroke-width="1.0" />
<text x="303.30" y="75.30" font-size="11" fill="#1c1c1c" stroke="#1c1c1c" stroke-width="0.15" text-anchor="middle" textLength="59.40" lengthAdjust="spacingAndGlyphs" transform="rotate(-90 303.30 75.30)" >Annexin V+ [%]</text>
<path d="M357.4,71.3 L357.4,16.3 L438.2,16.3 L438.2,82.1" stroke="#222" stroke-width="1.1" fill="none" />
<line x1="397.20" y1="16.30" x2="397.20" y2="23.50" stroke="#222" stroke-width="1.0" />
<line x1="398.60" y1="16.30" x2="398.60" y2="23.50" stroke="#222" stroke-width="1.0" />
<text x="377.40" y="18.20" font-size="10" fill="#1c1c1c" stroke="#1c1c1c" stroke-width="0.2" text-anchor="middle" >*</text>
<text x="418.60" y="18.20" font-size="10" fill="#1c1c1c" stroke="#1c1c1c" stroke-width="0.2" text-anchor="middle" >*</text>
<text x="7.60" y="217.30" font-size="12.4" fill="#000" stroke="#000" stroke-width="0.35" font-weight="bold" >C</text>
<line x1="58.00" y1="230.50" x2="58.00" y2="355.05" stroke="#000" stroke-width="1.7" />
<line x1="57.20" y1="354.25" x2="236.30" y2="354.25" stroke="#000" stroke-width="1.7" />
<line x1="54.20" y1="354.25" x2="58.00" y2="354.25" stroke="#000" stroke-width="1.1" />
<text x="50.40" y="357.20" font-size="8.8" fill="#1c1c1c" stroke="#1c1c1c" stroke-width="0.2" text-anchor="end" textLength="4.50" lengthAdjust="spacingAndGlyphs" >0</text>
<line x1="54.20" y1="333.96" x2="58.00" y2="333.96" stroke="#000" stroke-width="1.1" />
<text x="50.40" y="336.91" font-size="8.8" fill="#1c1c1c" stroke="#1c1c1c" stroke-width="0.2" text-anchor="end" textLength="9.00" lengthAdjust="spacingAndGlyphs" >20</text>
<line x1="54.20" y1="313.67" x2="58.00" y2="313.67" stroke="#000" stroke-width="1.1" />
<text x="50.40" y="316.62" font-size="8.8" fill="#1c1c1c" stroke="#1c1c1c" stroke-width="0.2" text-anchor="end" textLength="9.00" lengthAdjust="spacingAndGlyphs" >40</text>
<line x1="54.20" y1="293.37" x2="58.00" y2="293.37" stroke="#000" stroke-width="1.1" />
<text x="50.40" y="296.32" font-size="8.8" fill="#1c1c1c" stroke="#1c1c1c" stroke-width="0.2" text-anchor="end" textLength="9.00" lengthAdjust="spacingAndGlyphs" >60</text>
<line x1="54.20" y1="273.08" x2="58.00" y2="273.08" stroke="#000" stroke-width="1.1" />
<text x="50.40" y="276.03" font-size="8.8" fill="#1c1c1c" stroke="#1c1c1c" stroke-width="0.2" text-anchor="end" textLength="9.00" lengthAdjust="spacingAndGlyphs" >80</text>
<line x1="54.20" y1="252.79" x2="58.00" y2="252.79" stroke="#000" stroke-width="1.1" />
<text x="50.40" y="255.74" font-size="8.8" fill="#1c1c1c" stroke="#1c1c1c" stroke-width="0.2" text-anchor="end" textLength="13.50" lengthAdjust="spacingAndGlyphs" >100</text>
<line x1="54.20" y1="232.50" x2="58.00" y2="232.50" stroke="#000" stroke-width="1.1" />
<text x="50.40" y="235.45" font-size="8.8" fill="#1c1c1c" stroke="#1c1c1c" stroke-width="0.2" text-anchor="end" textLength="13.50" lengthAdjust="spacingAndGlyphs" >120</text>
<line x1="58.00" y1="354.25" x2="58.00" y2="357.55" stroke="#000" stroke-width="1.1" />
<text x="58.00" y="368.80" font-size="8.8" fill="#1c1c1c" stroke="#1c1c1c" stroke-width="0.15" text-anchor="middle" textLength="4.50" lengthAdjust="spacingAndGlyphs" >0</text>
<line x1="129.00" y1="354.25" x2="129.00" y2="357.55" stroke="#000" stroke-width="1.1" />
<text x="129.00" y="368.80" font-size="8.8" fill="#1c1c1c" stroke="#1c1c1c" stroke-width="0.15" text-anchor="middle" textLength="4.50" lengthAdjust="spacingAndGlyphs" >1</text>
<line x1="199.40" y1="354.25" x2="199.40" y2="357.55" stroke="#000" stroke-width="1.1" />
<text x="199.40" y="368.80" font-size="8.8" fill="#1c1c1c" stroke="#1c1c1c" stroke-width="0.15" text-anchor="middle" textLength="9.00" lengthAdjust="spacingAndGlyphs" >10</text>
<line x1="232.99" y1="354.25" x2="232.99" y2="357.55" stroke="#000" stroke-width="1.1" />
<text x="232.99" y="368.80" font-size="8.8" fill="#1c1c1c" stroke="#1c1c1c" stroke-width="0.15" text-anchor="middle" textLength="9.00" lengthAdjust="spacingAndGlyphs" >30</text>
<text x="112.50" y="383.00" font-size="9.8" fill="#1c1c1c" stroke="#1c1c1c" stroke-width="0.15" textLength="69.30" lengthAdjust="spacingAndGlyphs" >Hematoxylin [μM]</text>
<text x="30.30" y="293.30" font-size="11" fill="#1c1c1c" stroke="#1c1c1c" stroke-width="0.15" text-anchor="middle" textLength="45.20" lengthAdjust="spacingAndGlyphs" transform="rotate(-90 30.30 293.30)" >Viability [%]</text>
<path d="M58.00,257.36 L44.52,257.36 L45.47,257.36 L46.41,257.36 L47.36,257.36 L48.31,257.36 L49.26,257.36 L50.20,257.36 L51.15,257.36 L52.10,257.36 L53.04,257.36 L53.99,257.36 L54.94,257.36 L55.88,257.36 L56.83,257.36 L57.78,257.36 L58.73,257.36 L59.67,257.36 L60.62,257.36 L61.57,257.36 L62.51,257.36 L63.46,257.36 L64.41,257.36 L65.36,257.36 L66.30,257.36 L67.25,257.36 L68.20,257.36 L69.14,257.36 L70.09,257.36 L71.04,257.36 L71.99,257.36 L72.93,257.36 L73.88,257.36 L74.83,257.36 L75.77,257.36 L76.72,257.36 L77.67,257.36 L78.61,257.36 L79.56,257.36 L80.51,257.36 L81.46,257.36 L82.40,257.36 L83.35,257.36 L84.30,257.36 L85.24,257.36 L86.19,257.36 L87.14,257.36 L88.09,257.36 L89.03,257.36 L89.98,257.36 L90.93,257.36 L91.87,257.36 L92.82,257.36 L93.77,257.36 L94.72,257.36 L95.66,257.36 L96.61,257.36 L97.56,257.36 L98.50,257.36 L99.45,257.36 L100.40,257.36 L101.34,257.36 L102.29,257.36 L103.24,257.36 L104.19,257.36 L105.13,257.36 L106.08,257.36 L107.03,257.36 L107.97,257.36 L108.92,257.36 L109.87,257.36 L110.82,257.36 L111.76,257.36 L112.71,257.36 L113.66,257.36 L114.60,257.36 L115.55,257.36 L116.50,257.36 L117.45,257.36 L118.39,257.36 L119.34,257.36 L120.29,257.36 L121.23,257.36 L122.18,257.36 L123.13,257.36 L124.07,257.36 L125.02,257.36 L125.97,257.36 L126.92,257.36 L127.86,257.37 L128.81,257.37 L129.76,257.37 L130.70,257.37 L131.65,257.37 L132.60,257.37 L133.55,257.37 L134.49,257.38 L135.44,257.38 L136.39,257.38 L137.33,257.38 L138.28,257.39 L139.23,257.39 L140.18,257.39 L141.12,257.40 L142.07,257.40 L143.02,257.40 L143.96,257.41 L144.91,257.42 L145.86,257.42 L146.80,257.43 L147.75,257.44 L148.70,257.45 L149.65,257.46 L150.59,257.47 L151.54,257.48 L152.49,257.49 L153.43,257.51 L154.38,257.52 L155.33,257.54 L156.28,257.56 L157.22,257.58 L158.17,257.61 L159.12,257.63 L160.06,257.66 L161.01,257.70 L161.96,257.73 L162.91,257.78 L163.85,257.82 L164.80,257.87 L165.75,257.92 L166.69,257.99 L167.64,258.05 L168.59,258.13 L169.53,258.21 L170.48,258.30 L171.43,258.40 L172.38,258.51 L173.32,258.64 L174.27,258.77 L175.22,258.92 L176.16,259.09 L177.11,259.27 L178.06,259.47 L179.01,259.69 L179.95,259.94 L180.90,260.21 L181.85,260.51 L182.79,260.83 L183.74,261.19 L184.69,261.59 L185.64,262.02 L186.58,262.50 L187.53,263.02 L188.48,263.59 L189.42,264.22 L190.37,264.90 L191.32,265.65 L192.26,266.46 L193.21,267.34 L194.16,268.30 L195.11,269.33 L196.05,270.45 L197.00,271.66 L197.95,272.96 L198.89,274.36 L199.84,275.85 L200.79,277.44 L201.74,279.13 L202.68,280.92 L203.63,282.81 L204.58,284.80 L205.52,286.88 L206.47,289.05 L207.42,291.30 L208.37,293.63 L209.31,296.02 L210.26,298.47 L211.21,300.96 L212.15,303.49 L213.10,306.04 L214.05,308.59 L214.99,311.14 L215.94,313.66 L216.89,316.16 L217.84,318.61 L218.78,321.00 L219.73,323.33 L220.68,325.58 L221.62,327.75 L222.57,329.84 L223.52,331.82 L224.47,333.71 L225.41,335.51 L226.36,337.20 L227.31,338.79 L228.25,340.28 L229.20,341.68 L230.15,342.98 L231.10,344.18 L232.04,345.31 L232.99,346.34" stroke="#6ab23c" stroke-width="1.7" fill="none" />
<path d="M58.00,254.82 L44.52,254.82 L45.47,254.82 L46.41,254.82 L47.36,254.82 L48.31,254.82 L49.26,254.82 L50.20,254.82 L51.15,254.82 L52.10,254.82 L53.04,254.82 L53.99,254.82 L54.94,254.82 L55.88,254.82 L56.83,254.82 L57.78,254.82 L58.73,254.82 L59.67,254.82 L60.62,254.82 L61.57,254.82 L62.51,254.82 L63.46,254.82 L64.41,254.82 L65.36,254.82 L66.30,254.82 L67.25,254.82 L68.20,254.82 L69.14,254.82 L70.09,254.82 L71.04,254.82 L71.99,254.82 L72.93,254.82 L73.88,254.82 L74.83,254.82 L75.77,254.82 L76.72,254.82 L77.67,254.82 L78.61,254.82 L79.56,254.82 L80.51,254.82 L81.46,254.82 L82.40,254.82 L83.35,254.82 L84.30,254.82 L85.24,254.82 L86.19,254.82 L87.14,254.82 L88.09,254.82 L89.03,254.82 L89.98,254.82 L90.93,254.82 L91.87,254.82 L92.82,254.82 L93.77,254.82 L94.72,254.82 L95.66,254.82 L96.61,254.82 L97.56,254.82 L98.50,254.82 L99.45,254.82 L100.40,254.82 L101.34,254.82 L102.29,254.82 L103.24,254.82 L104.19,254.82 L105.13,254.82 L106.08,254.82 L107.03,254.82 L107.97,254.82 L108.92,254.82 L109.87,254.82 L110.82,254.82 L111.76,254.82 L112.71,254.82 L113.66,254.82 L114.60,254.82 L115.55,254.82 L116.50,254.82 L117.45,254.82 L118.39,254.82 L119.34,254.82 L120.29,254.82 L121.23,254.82 L122.18,254.82 L123.13,254.82 L124.07,254.82 L125.02,254.82 L125.97,254.82 L126.92,254.82 L127.86,254.82 L128.81,254.82 L129.76,254.82 L130.70,254.82 L131.65,254.82 L132.60,254.83 L133.55,254.83 L134.49,254.83 L135.44,254.83 L136.39,254.83 L137.33,254.83 L138.28,254.83 L139.23,254.83 L140.18,254.84 L141.12,254.84 L142.07,254.84 L143.02,254.84 L143.96,254.84 L144.91,254.85 L145.86,254.85 L146.80,254.86 L147.75,254.86 L148.70,254.86 L149.65,254.87 L150.59,254.88 L151.54,254.88 L152.49,254.89 L153.43,254.90 L154.38,254.91 L155.33,254.92 L156.28,254.93 L157.22,254.95 L158.17,254.96 L159.12,254.98 L160.06,255.00 L161.01,255.02 L161.96,255.04 L162.91,255.07 L163.85,255.10 L164.80,255.14 L165.75,255.17 L166.69,255.22 L167.64,255.27 L168.59,255.32 L169.53,255.38 L170.48,255.45 L171.43,255.52 L172.38,255.61 L173.32,255.70 L174.27,255.81 L175.22,255.93 L176.16,256.06 L177.11,256.21 L178.06,256.38 L179.01,256.56 L179.95,256.77 L180.90,257.00 L181.85,257.26 L182.79,257.55 L183.74,257.87 L184.69,258.23 L185.64,258.63 L186.58,259.08 L187.53,259.57 L188.48,260.12 L189.42,260.72 L190.37,261.40 L191.32,262.14 L192.26,262.96 L193.21,263.86 L194.16,264.85 L195.11,265.94 L196.05,267.13 L197.00,268.43 L197.95,269.84 L198.89,271.37 L199.84,273.03 L200.79,274.81 L201.74,276.72 L202.68,278.77 L203.63,280.94 L204.58,283.24 L205.52,285.67 L206.47,288.20 L207.42,290.85 L208.37,293.58 L209.31,296.40 L210.26,299.28 L211.21,302.21 L212.15,305.16 L213.10,308.13 L214.05,311.08 L214.99,314.01 L215.94,316.88 L216.89,319.69 L217.84,322.43 L218.78,325.06 L219.73,327.60 L220.68,330.01 L221.62,332.31 L222.57,334.47 L223.52,336.51 L224.47,338.42 L225.41,340.19 L226.36,341.84 L227.31,343.37 L228.25,344.78 L229.20,346.07 L230.15,347.25 L231.10,348.33 L232.04,349.32 L232.99,350.22" stroke="#b5053a" stroke-width="1.7" fill="none" />
<line x1="146.21" y1="249.24" x2="146.21" y2="255.33" stroke="#b5053a" stroke-width="1.0" />
<line x1="143.31" y1="249.24" x2="149.11" y2="249.24" stroke="#b5053a" stroke-width="1.0" />
<line x1="143.31" y1="255.33" x2="149.11" y2="255.33" stroke="#b5053a" stroke-width="1.0" />
<rect x="143.71" y="249.78" width="5.00" height="5.00" fill="#b5053a" />
<line x1="158.61" y1="249.85" x2="158.61" y2="255.94" stroke="#b5053a" stroke-width="1.0" />
<line x1="155.71" y1="249.85" x2="161.51" y2="249.85" stroke="#b5053a" stroke-width="1.0" />
<line x1="155.71" y1="255.94" x2="161.51" y2="255.94" stroke="#b5053a" stroke-width="1.0" />
<rect x="156.11" y="250.39" width="5.00" height="5.00" fill="#b5053a" />
<line x1="171.01" y1="249.44" x2="171.01" y2="255.53" stroke="#b5053a" stroke-width="1.0" />
<line x1="168.11" y1="249.44" x2="173.91" y2="249.44" stroke="#b5053a" stroke-width="1.0" />
<line x1="168.11" y1="255.53" x2="173.91" y2="255.53" stroke="#b5053a" stroke-width="1.0" />
<rect x="168.51" y="249.99" width="5.00" height="5.00" fill="#b5053a" />
<line x1="183.40" y1="253.40" x2="183.40" y2="259.49" stroke="#b5053a" stroke-width="1.0" />
<line x1="180.50" y1="253.40" x2="186.30" y2="253.40" stroke="#b5053a" stroke-width="1.0" />
<line x1="180.50" y1="259.49" x2="186.30" y2="259.49" stroke="#b5053a" stroke-width="1.0" />
<rect x="180.90" y="253.94" width="5.00" height="5.00" fill="#b5053a" />
<line x1="195.80" y1="251.27" x2="195.80" y2="283.74" stroke="#b5053a" stroke-width="1.0" />
<line x1="192.90" y1="251.27" x2="198.70" y2="251.27" stroke="#b5053a" stroke-width="1.0" />
<line x1="192.90" y1="283.74" x2="198.70" y2="283.74" stroke="#b5053a" stroke-width="1.0" />
<rect x="193.30" y="265.00" width="5.00" height="5.00" fill="#b5053a" />
<line x1="208.20" y1="275.11" x2="208.20" y2="315.70" stroke="#b5053a" stroke-width="1.0" />
<line x1="205.30" y1="275.11" x2="211.10" y2="275.11" stroke="#b5053a" stroke-width="1.0" />
<line x1="205.30" y1="315.70" x2="211.10" y2="315.70" stroke="#b5053a" stroke-width="1.0" />
<rect x="205.70" y="292.90" width="5.00" height="5.00" fill="#b5053a" />
<line x1="220.59" y1="313.06" x2="220.59" y2="341.47" stroke="#b5053a" stroke-width="1.0" />
<line x1="217.69" y1="313.06" x2="223.49" y2="313.06" stroke="#b5053a" stroke-width="1.0" />
<line x1="217.69" y1="341.47" x2="223.49" y2="341.47" stroke="#b5053a" stroke-width="1.0" />
<rect x="218.09" y="324.76" width="5.00" height="5.00" fill="#b5053a" />
<line x1="232.99" y1="327.87" x2="232.99" y2="352.22" stroke="#b5053a" stroke-width="1.0" />
<line x1="230.09" y1="327.87" x2="235.89" y2="327.87" stroke="#b5053a" stroke-width="1.0" />
<line x1="230.09" y1="352.22" x2="235.89" y2="352.22" stroke="#b5053a" stroke-width="1.0" />
<rect x="230.49" y="337.55" width="5.00" height="5.00" fill="#b5053a" />
<line x1="146.21" y1="247.41" x2="146.21" y2="261.01" stroke="#6ab23c" stroke-width="1.0" />
<line x1="143.31" y1="247.41" x2="149.11" y2="247.41" stroke="#6ab23c" stroke-width="1.0" />
<line x1="143.31" y1="261.01" x2="149.11" y2="261.01" stroke="#6ab23c" stroke-width="1.0" />
<circle cx="146.21" cy="254.21" r="2.70" fill="#6ab23c"/>
<line x1="158.61" y1="249.54" x2="158.61" y2="263.34" stroke="#6ab23c" stroke-width="1.0" />
<line x1="155.71" y1="249.54" x2="161.51" y2="249.54" stroke="#6ab23c" stroke-width="1.0" />
<line x1="155.71" y1="263.34" x2="161.51" y2="263.34" stroke="#6ab23c" stroke-width="1.0" />
<circle cx="158.61" cy="256.44" r="2.70" fill="#6ab23c"/>
<line x1="171.01" y1="250.86" x2="171.01" y2="267.10" stroke="#6ab23c" stroke-width="1.0" />
<line x1="168.11" y1="250.86" x2="173.91" y2="250.86" stroke="#6ab23c" stroke-width="1.0" />
<line x1="168.11" y1="267.10" x2="173.91" y2="267.10" stroke="#6ab23c" stroke-width="1.0" />
<circle cx="171.01" cy="258.98" r="2.70" fill="#6ab23c"/>
<line x1="183.40" y1="254.82" x2="183.40" y2="275.11" stroke="#6ab23c" stroke-width="1.0" />
<line x1="180.50" y1="254.82" x2="186.30" y2="254.82" stroke="#6ab23c" stroke-width="1.0" />
<line x1="180.50" y1="275.11" x2="186.30" y2="275.11" stroke="#6ab23c" stroke-width="1.0" />
<circle cx="183.40" cy="264.97" r="2.70" fill="#6ab23c"/>
<line x1="195.80" y1="260.20" x2="195.80" y2="290.63" stroke="#6ab23c" stroke-width="1.0" />
<line x1="192.90" y1="260.20" x2="198.70" y2="260.20" stroke="#6ab23c" stroke-width="1.0" />
<line x1="192.90" y1="290.63" x2="198.70" y2="290.63" stroke="#6ab23c" stroke-width="1.0" />
<circle cx="195.80" cy="275.42" r="2.70" fill="#6ab23c"/>
<line x1="208.20" y1="282.21" x2="208.20" y2="316.71" stroke="#6ab23c" stroke-width="1.0" />
<line x1="205.30" y1="282.21" x2="211.10" y2="282.21" stroke="#6ab23c" stroke-width="1.0" />
<line x1="205.30" y1="316.71" x2="211.10" y2="316.71" stroke="#6ab23c" stroke-width="1.0" />
<circle cx="208.20" cy="299.46" r="2.70" fill="#6ab23c"/>
<line x1="220.59" y1="305.85" x2="220.59" y2="334.26" stroke="#6ab23c" stroke-width="1.0" />
<line x1="217.69" y1="305.85" x2="223.49" y2="305.85" stroke="#6ab23c" stroke-width="1.0" />
<line x1="217.69" y1="334.26" x2="223.49" y2="334.26" stroke="#6ab23c" stroke-width="1.0" />
<circle cx="220.59" cy="320.06" r="2.70" fill="#6ab23c"/>
<line x1="232.99" y1="333.96" x2="232.99" y2="346.13" stroke="#6ab23c" stroke-width="1.0" />
<line x1="230.09" y1="333.96" x2="235.89" y2="333.96" stroke="#6ab23c" stroke-width="1.0" />
<line x1="230.09" y1="346.13" x2="235.89" y2="346.13" stroke="#6ab23c" stroke-width="1.0" />
<circle cx="232.99" cy="340.05" r="2.70" fill="#6ab23c"/>
<line x1="58.00" y1="248.73" x2="58.00" y2="257.86" stroke="#b5053a" stroke-width="1.0" />
<line x1="55.10" y1="248.73" x2="60.90" y2="248.73" stroke="#b5053a" stroke-width="1.0" />
<line x1="55.10" y1="257.86" x2="60.90" y2="257.86" stroke="#b5053a" stroke-width="1.0" />
<line x1="58.00" y1="245.69" x2="58.00" y2="260.91" stroke="#6ab23c" stroke-width="1.0" />
<line x1="55.10" y1="245.69" x2="60.90" y2="245.69" stroke="#6ab23c" stroke-width="1.0" />
<line x1="55.10" y1="260.91" x2="60.90" y2="260.91" stroke="#6ab23c" stroke-width="1.0" />
<circle cx="58.00" cy="253.80" r="2.70" fill="#6ab23c"/>
<line x1="98.00" y1="211.25" x2="109.00" y2="211.25" stroke="#6ab23c" stroke-width="1.6" />
<circle cx="103.50" cy="211.25" r="2.30" fill="#6ab23c"/>
<text x="112.60" y="214.35" font-size="8.8" fill="#1e1e1e" stroke="#1e1e1e" stroke-width="0.25" textLength="74.70" lengthAdjust="spacingAndGlyphs" >BaF3-MPL JAK2 WT</text>
<line x1="98.00" y1="224.25" x2="109.00" y2="224.25" stroke="#b5053a" stroke-width="1.6" />
<rect x="101.20" y="221.95" width="4.60" height="4.60" fill="#b5053a" />
<text x="112.60" y="227.35" font-size="8.8" fill="#1e1e1e" stroke="#1e1e1e" stroke-width="0.25" textLength="83.40" lengthAdjust="spacingAndGlyphs" >BaF3-MPL JAK2V617F</text>
<text x="275.30" y="217.10" font-size="12.4" fill="#000" stroke="#000" stroke-width="0.35" font-weight="bold" >D</text>
<line x1="324.25" y1="230.50" x2="324.25" y2="355.05" stroke="#000" stroke-width="1.7" />
<line x1="323.45" y1="354.25" x2="497.70" y2="354.25" stroke="#000" stroke-width="1.7" />
<line x1="320.50" y1="354.25" x2="324.25" y2="354.25" stroke="#000" stroke-width="1.1" />
<text x="316.60" y="357.20" font-size="8.8" fill="#1c1c1c" stroke="#1c1c1c" stroke-width="0.2" text-anchor="end" textLength="4.50" lengthAdjust="spacingAndGlyphs" >0</text>
<line x1="320.50" y1="336.89" x2="324.25" y2="336.89" stroke="#000" stroke-width="1.1" />
<text x="316.60" y="339.84" font-size="8.8" fill="#1c1c1c" stroke="#1c1c1c" stroke-width="0.2" text-anchor="end" textLength="9.00" lengthAdjust="spacingAndGlyphs" >20</text>
<line x1="320.50" y1="319.53" x2="324.25" y2="319.53" stroke="#000" stroke-width="1.1" />
<text x="316.60" y="322.48" font-size="8.8" fill="#1c1c1c" stroke="#1c1c1c" stroke-width="0.2" text-anchor="end" textLength="9.00" lengthAdjust="spacingAndGlyphs" >40</text>
<line x1="320.50" y1="302.17" x2="324.25" y2="302.17" stroke="#000" stroke-width="1.1" />
<text x="316.60" y="305.12" font-size="8.8" fill="#1c1c1c" stroke="#1c1c1c" stroke-width="0.2" text-anchor="end" textLength="9.00" lengthAdjust="spacingAndGlyphs" >60</text>
<line x1="320.50" y1="284.81" x2="324.25" y2="284.81" stroke="#000" stroke-width="1.1" />
<text x="316.60" y="287.76" font-size="8.8" fill="#1c1c1c" stroke="#1c1c1c" stroke-width="0.2" text-anchor="end" textLength="9.00" lengthAdjust="spacingAndGlyphs" >80</text>
<line x1="320.50" y1="267.45" x2="324.25" y2="267.45" stroke="#000" stroke-width="1.1" />
<text x="316.60" y="270.40" font-size="8.8" fill="#1c1c1c" stroke="#1c1c1c" stroke-width="0.2" text-anchor="end" textLength="13.50" lengthAdjust="spacingAndGlyphs" >100</text>
<line x1="320.50" y1="250.09" x2="324.25" y2="250.09" stroke="#000" stroke-width="1.1" />
<text x="316.60" y="253.04" font-size="8.8" fill="#1c1c1c" stroke="#1c1c1c" stroke-width="0.2" text-anchor="end" textLength="13.50" lengthAdjust="spacingAndGlyphs" >120</text>
<line x1="320.50" y1="232.73" x2="324.25" y2="232.73" stroke="#000" stroke-width="1.1" />
<text x="316.60" y="235.68" font-size="8.8" fill="#1c1c1c" stroke="#1c1c1c" stroke-width="0.2" text-anchor="end" textLength="13.50" lengthAdjust="spacingAndGlyphs" >140</text>
<line x1="324.25" y1="354.25" x2="324.25" y2="357.55" stroke="#000" stroke-width="1.1" />
<text x="324.25" y="368.80" font-size="8.8" fill="#1c1c1c" stroke="#1c1c1c" stroke-width="0.15" text-anchor="middle" textLength="4.50" lengthAdjust="spacingAndGlyphs" >0</text>
<line x1="392.65" y1="354.25" x2="392.65" y2="357.55" stroke="#000" stroke-width="1.1" />
<text x="392.65" y="368.80" font-size="8.8" fill="#1c1c1c" stroke="#1c1c1c" stroke-width="0.15" text-anchor="middle" textLength="4.50" lengthAdjust="spacingAndGlyphs" >1</text>
<line x1="461.30" y1="354.25" x2="461.30" y2="357.55" stroke="#000" stroke-width="1.1" />
<text x="461.30" y="368.80" font-size="8.8" fill="#1c1c1c" stroke="#1c1c1c" stroke-width="0.15" text-anchor="middle" textLength="9.00" lengthAdjust="spacingAndGlyphs" >10</text>
<line x1="494.05" y1="354.25" x2="494.05" y2="357.55" stroke="#000" stroke-width="1.1" />
<text x="494.05" y="368.80" font-size="8.8" fill="#1c1c1c" stroke="#1c1c1c" stroke-width="0.15" text-anchor="middle" textLength="9.00" lengthAdjust="spacingAndGlyphs" >30</text>
<text x="376.30" y="383.60" font-size="9.8" fill="#1c1c1c" stroke="#1c1c1c" stroke-width="0.15" textLength="68.70" lengthAdjust="spacingAndGlyphs" >Hematoxylin [μM]</text>
<text x="296.50" y="293.30" font-size="11" fill="#1c1c1c" stroke="#1c1c1c" stroke-width="0.15" text-anchor="middle" textLength="45.20" lengthAdjust="spacingAndGlyphs" transform="rotate(-90 296.50 293.30)" >Viability [%]</text>
<path d="M324.25,261.11 L349.35,261.11 L349.95,261.11 L350.56,261.11 L351.16,261.11 L351.77,261.11 L352.37,261.11 L352.98,261.11 L353.58,261.11 L354.19,261.11 L354.80,261.11 L355.40,261.11 L356.01,261.11 L356.61,261.11 L357.22,261.11 L357.82,261.11 L358.43,261.11 L359.03,261.11 L359.64,261.11 L360.25,261.11 L360.85,261.11 L361.46,261.11 L362.06,261.11 L362.67,261.11 L363.27,261.11 L363.88,261.11 L364.48,261.11 L365.09,261.11 L365.69,261.11 L366.30,261.11 L366.91,261.11 L367.51,261.11 L368.12,261.11 L368.72,261.11 L369.33,261.11 L369.93,261.11 L370.54,261.11 L371.14,261.11 L371.75,261.11 L372.35,261.11 L372.96,261.11 L373.57,261.11 L374.17,261.11 L374.78,261.11 L375.38,261.11 L375.99,261.11 L376.59,261.11 L377.20,261.11 L377.80,261.11 L378.41,261.11 L379.01,261.11 L379.62,261.11 L380.23,261.11 L380.83,261.11 L381.44,261.11 L382.04,261.11 L382.65,261.11 L383.25,261.11 L383.86,261.11 L384.46,261.11 L385.07,261.11 L385.67,261.11 L386.28,261.11 L386.89,261.11 L387.49,261.11 L388.10,261.11 L388.70,261.11 L389.31,261.11 L389.91,261.11 L390.52,261.11 L391.12,261.11 L391.73,261.11 L392.34,261.11 L392.94,261.11 L393.55,261.11 L394.15,261.11 L394.76,261.11 L395.36,261.11 L395.97,261.11 L396.57,261.11 L397.18,261.11 L397.78,261.11 L398.39,261.11 L399.00,261.11 L399.60,261.11 L400.21,261.11 L400.81,261.11 L401.42,261.11 L402.02,261.11 L402.63,261.11 L403.23,261.11 L403.84,261.11 L404.44,261.11 L405.05,261.11 L405.66,261.11 L406.26,261.11 L406.87,261.11 L407.47,261.11 L408.08,261.11 L408.68,261.11 L409.29,261.11 L409.89,261.11 L410.50,261.11 L411.10,261.11 L411.71,261.11 L412.32,261.11 L412.92,261.11 L413.53,261.11 L414.13,261.11 L414.74,261.11 L415.34,261.11 L415.95,261.11 L416.55,261.11 L417.16,261.11 L417.76,261.11 L418.37,261.11 L418.98,261.11 L419.58,261.11 L420.19,261.11 L420.79,261.11 L421.40,261.11 L422.00,261.11 L422.61,261.11 L423.21,261.11 L423.82,261.11 L424.43,261.11 L425.03,261.12 L425.64,261.12 L426.24,261.12 L426.85,261.12 L427.45,261.12 L428.06,261.12 L428.66,261.12 L429.27,261.12 L429.87,261.12 L430.48,261.12 L431.09,261.12 L431.69,261.12 L432.30,261.12 L432.90,261.12 L433.51,261.13 L434.11,261.13 L434.72,261.13 L435.32,261.13 L435.93,261.14 L436.53,261.14 L437.14,261.14 L437.75,261.15 L438.35,261.15 L438.96,261.16 L439.56,261.17 L440.17,261.18 L440.77,261.19 L441.38,261.20 L441.98,261.22 L442.59,261.23 L443.19,261.25 L443.80,261.27 L444.41,261.30 L445.01,261.33 L445.62,261.37 L446.22,261.41 L446.83,261.46 L447.43,261.51 L448.04,261.58 L448.64,261.66 L449.25,261.75 L449.85,261.85 L450.46,261.97 L451.07,262.11 L451.67,262.27 L452.28,262.45 L452.88,262.67 L453.49,262.92 L454.09,263.21 L454.70,263.55 L455.30,263.93 L455.91,264.38 L456.52,264.89 L457.12,265.48 L457.73,266.16 L458.33,266.93 L458.94,267.81 L459.54,268.81 L460.15,269.95 L460.75,271.23 L461.36,272.66 L461.96,274.27 L462.57,276.04 L463.18,278.01 L463.78,280.16 L464.39,282.49 L464.99,285.01 L465.60,287.70 L466.20,290.54 L466.81,293.51 L467.41,296.59 L468.02,299.75 L468.62,302.94 L469.23,306.13 L469.84,309.29 L470.44,312.38 L471.05,315.37 L471.65,318.23 L472.26,320.93 L472.86,323.47 L473.47,325.83 L474.07,328.00 L474.68,329.99 L475.28,331.79 L475.89,333.41 L476.50,334.86 L477.10,336.16 L477.71,337.31 L478.31,338.33 L478.92,339.22 L479.52,340.00 L480.13,340.69 L480.73,341.29 L481.34,341.81 L481.94,342.27 L482.55,342.66 L483.16,343.00 L483.76,343.30 L484.37,343.55 L484.97,343.77 L485.58,343.96 L486.18,344.13 L486.79,344.27 L487.39,344.39 L488.00,344.49 L488.61,344.58 L489.21,344.66 L489.82,344.73 L490.42,344.79 L491.03,344.83 L491.63,344.88 L492.24,344.91 L492.84,344.94 L493.45,344.97 L494.05,344.99" stroke="#6ab23c" stroke-width="1.7" fill="none" />
<path d="M324.25,270.49 L349.35,270.49 L349.95,270.49 L350.56,270.49 L351.16,270.49 L351.77,270.49 L352.37,270.49 L352.98,270.49 L353.58,270.49 L354.19,270.49 L354.80,270.49 L355.40,270.49 L356.01,270.49 L356.61,270.49 L357.22,270.49 L357.82,270.49 L358.43,270.49 L359.03,270.49 L359.64,270.49 L360.25,270.49 L360.85,270.49 L361.46,270.49 L362.06,270.49 L362.67,270.49 L363.27,270.49 L363.88,270.49 L364.48,270.49 L365.09,270.49 L365.69,270.49 L366.30,270.49 L366.91,270.49 L367.51,270.49 L368.12,270.49 L368.72,270.49 L369.33,270.49 L369.93,270.49 L370.54,270.49 L371.14,270.49 L371.75,270.49 L372.35,270.49 L372.96,270.49 L373.57,270.49 L374.17,270.49 L374.78,270.49 L375.38,270.49 L375.99,270.49 L376.59,270.49 L377.20,270.49 L377.80,270.49 L378.41,270.49 L379.01,270.49 L379.62,270.49 L380.23,270.49 L380.83,270.49 L381.44,270.49 L382.04,270.49 L382.65,270.49 L383.25,270.49 L383.86,270.49 L384.46,270.49 L385.07,270.49 L385.67,270.49 L386.28,270.49 L386.89,270.49 L387.49,270.49 L388.10,270.49 L388.70,270.49 L389.31,270.49 L389.91,270.49 L390.52,270.49 L391.12,270.49 L391.73,270.49 L392.34,270.49 L392.94,270.49 L393.55,270.49 L394.15,270.49 L394.76,270.49 L395.36,270.49 L395.97,270.49 L396.57,270.49 L397.18,270.49 L397.78,270.49 L398.39,270.49 L399.00,270.49 L399.60,270.49 L400.21,270.49 L400.81,270.49 L401.42,270.49 L402.02,270.49 L402.63,270.49 L403.23,270.49 L403.84,270.49 L404.44,270.49 L405.05,270.49 L405.66,270.49 L406.26,270.49 L406.87,270.49 L407.47,270.49 L408.08,270.49 L408.68,270.49 L409.29,270.49 L409.89,270.49 L410.50,270.50 L411.10,270.50 L411.71,270.50 L412.32,270.50 L412.92,270.50 L413.53,270.50 L414.13,270.50 L414.74,270.50 L415.34,270.50 L415.95,270.51 L416.55,270.51 L417.16,270.51 L417.76,270.51 L418.37,270.51 L418.98,270.52 L419.58,270.52 L420.19,270.52 L420.79,270.53 L421.40,270.53 L422.00,270.54 L422.61,270.54 L423.21,270.55 L423.82,270.55 L424.43,270.56 L425.03,270.57 L425.64,270.58 L426.24,270.59 L426.85,270.60 L427.45,270.61 L428.06,270.62 L428.66,270.64 L429.27,270.65 L429.87,270.67 L430.48,270.69 L431.09,270.71 L431.69,270.73 L432.30,270.76 L432.90,270.79 L433.51,270.82 L434.11,270.85 L434.72,270.89 L435.32,270.94 L435.93,270.98 L436.53,271.04 L437.14,271.09 L437.75,271.16 L438.35,271.23 L438.96,271.31 L439.56,271.39 L440.17,271.49 L440.77,271.59 L441.38,271.71 L441.98,271.84 L442.59,271.98 L443.19,272.13 L443.80,272.30 L444.41,272.49 L445.01,272.70 L445.62,272.93 L446.22,273.18 L446.83,273.45 L447.43,273.75 L448.04,274.08 L448.64,274.45 L449.25,274.84 L449.85,275.28 L450.46,275.75 L451.07,276.26 L451.67,276.82 L452.28,277.43 L452.88,278.09 L453.49,278.80 L454.09,279.57 L454.70,280.39 L455.30,281.28 L455.91,282.24 L456.52,283.26 L457.12,284.34 L457.73,285.49 L458.33,286.71 L458.94,288.00 L459.54,289.35 L460.15,290.76 L460.75,292.23 L461.36,293.75 L461.96,295.33 L462.57,296.94 L463.18,298.59 L463.78,300.27 L464.39,301.97 L464.99,303.69 L465.60,305.40 L466.20,307.11 L466.81,308.81 L467.41,310.48 L468.02,312.13 L468.62,313.73 L469.23,315.29 L469.84,316.80 L470.44,318.25 L471.05,319.64 L471.65,320.98 L472.26,322.24 L472.86,323.44 L473.47,324.57 L474.07,325.64 L474.68,326.64 L475.28,327.57 L475.89,328.45 L476.50,329.26 L477.10,330.01 L477.71,330.70 L478.31,331.35 L478.92,331.94 L479.52,332.49 L480.13,332.99 L480.73,333.45 L481.34,333.87 L481.94,334.26 L482.55,334.61 L483.16,334.93 L483.76,335.22 L484.37,335.49 L484.97,335.73 L485.58,335.96 L486.18,336.16 L486.79,336.34 L487.39,336.51 L488.00,336.66 L488.61,336.79 L489.21,336.92 L489.82,337.03 L490.42,337.13 L491.03,337.23 L491.63,337.31 L492.24,337.39 L492.84,337.46 L493.45,337.52 L494.05,337.57" stroke="#b5053a" stroke-width="1.7" fill="none" />
<line x1="324.25" y1="266.58" x2="324.25" y2="271.79" stroke="#b5053a" stroke-width="1.0" />
<line x1="321.35" y1="266.58" x2="327.15" y2="266.58" stroke="#b5053a" stroke-width="1.0" />
<line x1="321.35" y1="271.79" x2="327.15" y2="271.79" stroke="#b5053a" stroke-width="1.0" />
<rect x="321.75" y="266.69" width="5.00" height="5.00" fill="#b5053a" />
<rect x="346.89" y="264.43" width="5.00" height="5.00" fill="#b5053a" />
<line x1="370.06" y1="266.58" x2="370.06" y2="271.79" stroke="#b5053a" stroke-width="1.0" />
<line x1="367.16" y1="266.58" x2="372.96" y2="266.58" stroke="#b5053a" stroke-width="1.0" />
<line x1="367.16" y1="271.79" x2="372.96" y2="271.79" stroke="#b5053a" stroke-width="1.0" />
<rect x="367.56" y="266.69" width="5.00" height="5.00" fill="#b5053a" />
<line x1="390.73" y1="272.48" x2="390.73" y2="275.96" stroke="#b5053a" stroke-width="1.0" />
<line x1="387.83" y1="272.48" x2="393.63" y2="272.48" stroke="#b5053a" stroke-width="1.0" />
<line x1="387.83" y1="275.96" x2="393.63" y2="275.96" stroke="#b5053a" stroke-width="1.0" />
<rect x="388.23" y="271.72" width="5.00" height="5.00" fill="#b5053a" />
<rect x="408.89" y="275.19" width="5.00" height="5.00" fill="#b5053a" />
<line x1="432.06" y1="265.63" x2="432.06" y2="270.84" stroke="#b5053a" stroke-width="1.0" />
<line x1="429.16" y1="265.63" x2="434.96" y2="265.63" stroke="#b5053a" stroke-width="1.0" />
<line x1="429.16" y1="270.84" x2="434.96" y2="270.84" stroke="#b5053a" stroke-width="1.0" />
<rect x="429.56" y="265.73" width="5.00" height="5.00" fill="#b5053a" />
<line x1="452.72" y1="270.84" x2="452.72" y2="279.52" stroke="#b5053a" stroke-width="1.0" />
<line x1="449.82" y1="270.84" x2="455.62" y2="270.84" stroke="#b5053a" stroke-width="1.0" />
<line x1="449.82" y1="279.52" x2="455.62" y2="279.52" stroke="#b5053a" stroke-width="1.0" />
<rect x="450.22" y="272.68" width="5.00" height="5.00" fill="#b5053a" />
<line x1="473.39" y1="318.66" x2="473.39" y2="327.34" stroke="#b5053a" stroke-width="1.0" />
<line x1="470.49" y1="318.66" x2="476.29" y2="318.66" stroke="#b5053a" stroke-width="1.0" />
<line x1="470.49" y1="327.34" x2="476.29" y2="327.34" stroke="#b5053a" stroke-width="1.0" />
<rect x="470.89" y="320.50" width="5.00" height="5.00" fill="#b5053a" />
<line x1="494.05" y1="333.85" x2="494.05" y2="340.80" stroke="#b5053a" stroke-width="1.0" />
<line x1="491.15" y1="333.85" x2="496.95" y2="333.85" stroke="#b5053a" stroke-width="1.0" />
<line x1="491.15" y1="340.80" x2="496.95" y2="340.80" stroke="#b5053a" stroke-width="1.0" />
<rect x="491.55" y="334.82" width="5.00" height="5.00" fill="#b5053a" />
<line x1="324.25" y1="263.98" x2="324.25" y2="270.92" stroke="#6ab23c" stroke-width="1.0" />
<line x1="321.35" y1="263.98" x2="327.15" y2="263.98" stroke="#6ab23c" stroke-width="1.0" />
<line x1="321.35" y1="270.92" x2="327.15" y2="270.92" stroke="#6ab23c" stroke-width="1.0" />
<circle cx="324.25" cy="267.45" r="2.70" fill="#6ab23c"/>
<line x1="349.39" y1="259.90" x2="349.39" y2="266.84" stroke="#6ab23c" stroke-width="1.0" />
<line x1="346.49" y1="259.90" x2="352.29" y2="259.90" stroke="#6ab23c" stroke-width="1.0" />
<line x1="346.49" y1="266.84" x2="352.29" y2="266.84" stroke="#6ab23c" stroke-width="1.0" />
<circle cx="349.39" cy="263.37" r="2.70" fill="#6ab23c"/>
<line x1="370.06" y1="256.95" x2="370.06" y2="263.02" stroke="#6ab23c" stroke-width="1.0" />
<line x1="367.16" y1="256.95" x2="372.96" y2="256.95" stroke="#6ab23c" stroke-width="1.0" />
<line x1="367.16" y1="263.02" x2="372.96" y2="263.02" stroke="#6ab23c" stroke-width="1.0" />
<circle cx="370.06" cy="259.99" r="2.70" fill="#6ab23c"/>
<line x1="390.73" y1="250.18" x2="390.73" y2="261.46" stroke="#6ab23c" stroke-width="1.0" />
<line x1="387.83" y1="250.18" x2="393.63" y2="250.18" stroke="#6ab23c" stroke-width="1.0" />
<line x1="387.83" y1="261.46" x2="393.63" y2="261.46" stroke="#6ab23c" stroke-width="1.0" />
<circle cx="390.73" cy="255.82" r="2.70" fill="#6ab23c"/>
<line x1="411.39" y1="249.83" x2="411.39" y2="257.64" stroke="#6ab23c" stroke-width="1.0" />
<line x1="408.49" y1="249.83" x2="414.29" y2="249.83" stroke="#6ab23c" stroke-width="1.0" />
<line x1="408.49" y1="257.64" x2="414.29" y2="257.64" stroke="#6ab23c" stroke-width="1.0" />
<circle cx="411.39" cy="253.74" r="2.70" fill="#6ab23c"/>
<circle cx="432.06" cy="262.94" r="2.70" fill="#6ab23c"/>
<line x1="452.72" y1="253.74" x2="452.72" y2="269.36" stroke="#6ab23c" stroke-width="1.0" />
<line x1="449.82" y1="253.74" x2="455.62" y2="253.74" stroke="#6ab23c" stroke-width="1.0" />
<line x1="449.82" y1="269.36" x2="455.62" y2="269.36" stroke="#6ab23c" stroke-width="1.0" />
<circle cx="452.72" cy="261.55" r="2.70" fill="#6ab23c"/>
<line x1="473.39" y1="318.66" x2="473.39" y2="327.34" stroke="#6ab23c" stroke-width="1.0" />
<line x1="470.49" y1="318.66" x2="476.29" y2="318.66" stroke="#6ab23c" stroke-width="1.0" />
<line x1="470.49" y1="327.34" x2="476.29" y2="327.34" stroke="#6ab23c" stroke-width="1.0" />
<circle cx="473.39" cy="323.00" r="2.70" fill="#6ab23c"/>
<line x1="494.05" y1="341.40" x2="494.05" y2="346.61" stroke="#6ab23c" stroke-width="1.0" />
<line x1="491.15" y1="341.40" x2="496.95" y2="341.40" stroke="#6ab23c" stroke-width="1.0" />
<line x1="491.15" y1="346.61" x2="496.95" y2="346.61" stroke="#6ab23c" stroke-width="1.0" />
<circle cx="494.05" cy="344.01" r="2.70" fill="#6ab23c"/>
<line x1="358.00" y1="211.25" x2="369.00" y2="211.25" stroke="#6ab23c" stroke-width="1.6" />
<circle cx="363.50" cy="211.25" r="2.30" fill="#6ab23c"/>
<text x="372.60" y="214.35" font-size="8.8" fill="#1e1e1e" stroke="#1e1e1e" stroke-width="0.25" textLength="81.50" lengthAdjust="spacingAndGlyphs" >BaF3-EPOR CALR WT</text>
<line x1="358.00" y1="224.25" x2="369.00" y2="224.25" stroke="#b5053a" stroke-width="1.6" />
<rect x="361.20" y="221.95" width="4.60" height="4.60" fill="#b5053a" />
<text x="372.60" y="227.35" font-size="8.8" fill="#1e1e1e" stroke="#1e1e1e" stroke-width="0.25" textLength="90.20" lengthAdjust="spacingAndGlyphs" >BaF3-EPOR CALR del52</text>
<text x="7.90" y="414.00" font-size="12.4" fill="#000" stroke="#000" stroke-width="0.35" font-weight="bold" >E</text>
<line x1="50.50" y1="451.00" x2="44.70" y2="471.00" stroke="#111" stroke-width="1.0" />
<line x1="101.00" y1="451.00" x2="105.30" y2="471.00" stroke="#111" stroke-width="1.0" />
<ellipse cx="52.60" cy="433.50" rx="20.80" ry="18.00" fill="#ebb71f" stroke="#111" stroke-width="1.2"/>
<ellipse cx="94.50" cy="433.50" rx="20.90" ry="18.00" fill="#64a7df" stroke="#111" stroke-width="1.2"/>
<text x="52.60" y="431.00" font-size="8.8" fill="#1e1a10" stroke="#1e1a10" stroke-width="0.15" text-anchor="middle" textLength="21.00" lengthAdjust="spacingAndGlyphs" >CALR</text>
<text x="52.60" y="441.00" font-size="8.8" fill="#1e1a10" stroke="#1e1a10" stroke-width="0.15" text-anchor="middle" textLength="21.00" lengthAdjust="spacingAndGlyphs" >del52</text>
<text x="95.50" y="437.20" font-size="9" fill="#f6f9ff" stroke="#f6f9ff" stroke-width="0.15" text-anchor="middle" textLength="17.50" lengthAdjust="spacingAndGlyphs" >MPL</text>
<line x1="167.40" y1="451.00" x2="162.50" y2="471.00" stroke="#111" stroke-width="1.0" />
<line x1="235.20" y1="451.00" x2="238.00" y2="471.00" stroke="#111" stroke-width="1.0" />
<ellipse cx="171.30" cy="433.50" rx="20.80" ry="18.00" fill="#ebb71f" stroke="#111" stroke-width="1.2"/>
<ellipse cx="232.50" cy="433.50" rx="20.90" ry="18.00" fill="#64a7df" stroke="#111" stroke-width="1.2"/>
<text x="171.30" y="431.00" font-size="8.8" fill="#1e1a10" stroke="#1e1a10" stroke-width="0.15" text-anchor="middle" textLength="21.00" lengthAdjust="spacingAndGlyphs" >CALR</text>
<text x="171.30" y="441.00" font-size="8.8" fill="#1e1a10" stroke="#1e1a10" stroke-width="0.15" text-anchor="middle" textLength="21.00" lengthAdjust="spacingAndGlyphs" >del52</text>
<text x="233.50" y="437.20" font-size="9" fill="#f6f9ff" stroke="#f6f9ff" stroke-width="0.15" text-anchor="middle" textLength="17.50" lengthAdjust="spacingAndGlyphs" >MPL</text>
<circle cx="195.8" cy="433.5" r="11" fill="#5fa543"/>
<text x="195.60" y="436.50" font-size="8.6" fill="#142008" stroke="#142008" stroke-width="0.15" text-anchor="middle" textLength="19.00" lengthAdjust="spacingAndGlyphs" >HEM</text>
<line x1="118.30" y1="433.60" x2="144.00" y2="433.60" stroke="#111" stroke-width="1.1" />
<polygon points="147.6,433.6 141.5,430.8 141.5,436.4" fill="#111"/>
<text x="115.90" y="424.60" font-size="8.4" fill="#1a1a1a" stroke="#1a1a1a" stroke-width="0.15" textLength="33.90" lengthAdjust="spacingAndGlyphs" >HEM 24h</text>
<rect x="20.30" y="471.00" width="45.70" height="26.60" rx="13.30" ry="13.30" fill="#586da4" stroke="#111" stroke-width="1.2"/>
<text x="23.40" y="487.20" font-size="9.2" fill="#f4f6fb" stroke="#f4f6fb" stroke-width="0.15" textLength="30.10" lengthAdjust="spacingAndGlyphs" >HaloTag</text>
<circle cx="63.1" cy="484.6" r="9.6" fill="#b3063a"/>
<text x="63.10" y="487.80" font-size="9.2" fill="#fff" stroke="#fff" stroke-width="0.15" text-anchor="middle" textLength="15.00" lengthAdjust="spacingAndGlyphs" >618</text>
<rect x="88.30" y="471.00" width="45.70" height="26.60" rx="13.30" ry="13.30" fill="#d45e9e" stroke="#111" stroke-width="1.2"/>
<text x="111.00" y="487.50" font-size="9.2" fill="#fdf0f6" stroke="#fdf0f6" stroke-width="0.15" text-anchor="middle" textLength="33.20" lengthAdjust="spacingAndGlyphs" >NanoLuc</text>
<polygon points="72.7,484.7 78.3,482.0 78.3,487.4" fill="#111"/>
<line x1="79.50" y1="484.70" x2="88.00" y2="484.70" stroke="#111" stroke-width="1.1" stroke-dasharray="2.6,1.6"/>
<text x="83.20" y="481.40" font-size="7.6" fill="#1a1a1a" stroke="#1a1a1a" stroke-width="0.15" text-anchor="middle" textLength="4.20" lengthAdjust="spacingAndGlyphs" >E</text>
<line x1="66.30" y1="499.50" x2="91.90" y2="499.50" stroke="#222" stroke-width="1.1" />
<line x1="66.30" y1="496.80" x2="66.30" y2="502.20" stroke="#222" stroke-width="1.0" />
<line x1="91.90" y1="496.80" x2="91.90" y2="502.20" stroke="#222" stroke-width="1.0" />
<text x="79.60" y="509.90" font-size="8.2" fill="#1a1a1a" stroke="#1a1a1a" stroke-width="0.15" text-anchor="middle" textLength="23.70" lengthAdjust="spacingAndGlyphs" >10 nM</text>
<path d="M63.70,494.20 L63.70,508.2 L50.40,513.4 L69.40,515.8 L50.40,519.9 L69.40,522.2 L50.40,526.3 L69.40,528.6 L59.90,532.4 L59.90,536" stroke="#c81f4c" stroke-width="1.0" fill="none" stroke-linejoin="miter"/>
<polygon points="58.10,535.3 61.70,535.3 59.90,538.8" fill="#c81f4c"/>
<path d="M110.90,497.60 L110.90,508.2 L97.10,513.4 L116.10,515.8 L97.10,519.9 L116.10,522.2 L97.10,526.3 L116.10,528.6 L106.30,532.4 L106.30,536" stroke="#6b3e98" stroke-width="1.0" fill="none" stroke-linejoin="miter"/>
<polygon points="104.50,535.3 108.10,535.3 106.30,538.8" fill="#6b3e98"/>
<rect x="140.50" y="471.00" width="39.90" height="26.60" rx="13.30" ry="13.30" fill="#586da4" stroke="#111" stroke-width="1.2"/>
<text x="143.50" y="487.20" font-size="9.2" fill="#f4f6fb" stroke="#f4f6fb" stroke-width="0.15" textLength="30.10" lengthAdjust="spacingAndGlyphs" >HaloTag</text>
<circle cx="183.1" cy="484.6" r="9.6" fill="#b3063a"/>
<text x="183.10" y="487.80" font-size="9.2" fill="#fff" stroke="#fff" stroke-width="0.15" text-anchor="middle" textLength="15.00" lengthAdjust="spacingAndGlyphs" >618</text>
<rect x="215.60" y="471.00" width="42.70" height="26.60" rx="13.30" ry="13.30" fill="#d45e9e" stroke="#111" stroke-width="1.2"/>
<text x="237.00" y="487.50" font-size="9.2" fill="#fdf0f6" stroke="#fdf0f6" stroke-width="0.15" text-anchor="middle" textLength="33.20" lengthAdjust="spacingAndGlyphs" >NanoLuc</text>
<path d="M236.60,497.60 L236.60,508.2 L223.00,513.4 L242.40,515.8 L223.00,519.9 L242.40,522.2 L223.00,526.3 L242.40,528.6 L232.30,532.4 L232.30,536" stroke="#6b3e98" stroke-width="1.0" fill="none" stroke-linejoin="miter"/>
<polygon points="230.50,535.3 234.10,535.3 232.30,538.8" fill="#6b3e98"/>
<text x="275.00" y="414.00" font-size="12.4" fill="#000" stroke="#000" stroke-width="0.35" font-weight="bold" >F</text>
<line x1="324.30" y1="406.20" x2="324.30" y2="520.05" stroke="#000" stroke-width="1.6" />
<line x1="323.60" y1="519.25" x2="496.50" y2="519.25" stroke="#000" stroke-width="1.6" />
<line x1="320.70" y1="519.25" x2="324.30" y2="519.25" stroke="#000" stroke-width="1.1" />
<text x="317.80" y="522.35" font-size="9.2" fill="#1c1c1c" stroke="#1c1c1c" stroke-width="0.15" text-anchor="end" textLength="4.80" lengthAdjust="spacingAndGlyphs" >0</text>
<line x1="320.70" y1="482.35" x2="324.30" y2="482.35" stroke="#000" stroke-width="1.1" />
<text x="317.80" y="485.45" font-size="9.2" fill="#1c1c1c" stroke="#1c1c1c" stroke-width="0.15" text-anchor="end" textLength="12.50" lengthAdjust="spacingAndGlyphs" >0.5</text>
<line x1="320.70" y1="445.45" x2="324.30" y2="445.45" stroke="#000" stroke-width="1.1" />
<text x="317.80" y="448.55" font-size="9.2" fill="#1c1c1c" stroke="#1c1c1c" stroke-width="0.15" text-anchor="end" textLength="3.20" lengthAdjust="spacingAndGlyphs" >1</text>
<line x1="320.70" y1="408.55" x2="324.30" y2="408.55" stroke="#000" stroke-width="1.1" />
<text x="317.80" y="411.65" font-size="9.2" fill="#1c1c1c" stroke="#1c1c1c" stroke-width="0.15" text-anchor="end" textLength="12.50" lengthAdjust="spacingAndGlyphs" >1.5</text>
<line x1="333.30" y1="441.02" x2="333.30" y2="445.71" stroke="#222" stroke-width="1.1" />
<line x1="331.20" y1="441.02" x2="335.40" y2="441.02" stroke="#222" stroke-width="1.1" />
<rect x="330.00" y="444.71" width="6.70" height="74.54" fill="#62a8df" />
<line x1="343.95" y1="491.94" x2="343.95" y2="498.11" stroke="#222" stroke-width="1.1" />
<line x1="341.85" y1="491.94" x2="346.05" y2="491.94" stroke="#222" stroke-width="1.1" />
<rect x="340.50" y="497.11" width="6.90" height="22.14" fill="#2d5d46" />
<line x1="338.50" y1="519.25" x2="338.50" y2="522.45" stroke="#000" stroke-width="1.1" />
<text x="338.50" y="534.40" font-size="9.2" fill="#1c1c1c" stroke="#1c1c1c" stroke-width="0.15" text-anchor="middle" textLength="4.60" lengthAdjust="spacingAndGlyphs" >0</text>
<line x1="361.90" y1="441.76" x2="361.90" y2="446.45" stroke="#222" stroke-width="1.1" />
<line x1="359.80" y1="441.76" x2="364.00" y2="441.76" stroke="#222" stroke-width="1.1" />
<rect x="358.60" y="445.45" width="6.70" height="73.80" fill="#62a8df" />
<line x1="372.55" y1="494.16" x2="372.55" y2="498.85" stroke="#222" stroke-width="1.1" />
<line x1="370.45" y1="494.16" x2="374.65" y2="494.16" stroke="#222" stroke-width="1.1" />
<rect x="369.10" y="497.85" width="6.90" height="21.40" fill="#2d5d46" />
<line x1="367.10" y1="519.25" x2="367.10" y2="522.45" stroke="#000" stroke-width="1.1" />
<text x="367.10" y="534.40" font-size="9.2" fill="#1c1c1c" stroke="#1c1c1c" stroke-width="0.15" text-anchor="middle" textLength="16.00" lengthAdjust="spacingAndGlyphs" >0.02</text>
<line x1="390.50" y1="441.02" x2="390.50" y2="446.45" stroke="#222" stroke-width="1.1" />
<line x1="388.40" y1="441.02" x2="392.60" y2="441.02" stroke="#222" stroke-width="1.1" />
<rect x="387.20" y="445.45" width="6.70" height="73.80" fill="#62a8df" />
<line x1="401.15" y1="494.16" x2="401.15" y2="498.85" stroke="#222" stroke-width="1.1" />
<line x1="399.05" y1="494.16" x2="403.25" y2="494.16" stroke="#222" stroke-width="1.1" />
<rect x="397.70" y="497.85" width="6.90" height="21.40" fill="#2d5d46" />
<line x1="395.70" y1="519.25" x2="395.70" y2="522.45" stroke="#000" stroke-width="1.1" />
<text x="395.70" y="534.40" font-size="9.2" fill="#1c1c1c" stroke="#1c1c1c" stroke-width="0.15" text-anchor="middle" textLength="11.50" lengthAdjust="spacingAndGlyphs" >0.2</text>
<line x1="419.10" y1="444.71" x2="419.10" y2="451.91" stroke="#222" stroke-width="1.1" />
<line x1="417.00" y1="444.71" x2="421.20" y2="444.71" stroke="#222" stroke-width="1.1" />
<rect x="415.80" y="450.91" width="6.70" height="68.34" fill="#62a8df" />
<line x1="429.75" y1="496.00" x2="429.75" y2="499.59" stroke="#222" stroke-width="1.1" />
<line x1="427.65" y1="496.00" x2="431.85" y2="496.00" stroke="#222" stroke-width="1.1" />
<rect x="426.30" y="498.59" width="6.90" height="20.66" fill="#2d5d46" />
<line x1="424.30" y1="519.25" x2="424.30" y2="522.45" stroke="#000" stroke-width="1.1" />
<text x="424.30" y="534.40" font-size="9.2" fill="#1c1c1c" stroke="#1c1c1c" stroke-width="0.15" text-anchor="middle" textLength="4.60" lengthAdjust="spacingAndGlyphs" >2</text>
<line x1="447.70" y1="450.62" x2="447.70" y2="457.89" stroke="#222" stroke-width="1.1" />
<line x1="445.60" y1="450.62" x2="449.80" y2="450.62" stroke="#222" stroke-width="1.1" />
<rect x="444.40" y="456.89" width="6.70" height="62.36" fill="#62a8df" />
<line x1="458.35" y1="496.37" x2="458.35" y2="499.22" stroke="#222" stroke-width="1.1" />
<line x1="456.25" y1="496.37" x2="460.45" y2="496.37" stroke="#222" stroke-width="1.1" />
<rect x="454.90" y="498.22" width="6.90" height="21.03" fill="#2d5d46" />
<line x1="452.90" y1="519.25" x2="452.90" y2="522.45" stroke="#000" stroke-width="1.1" />
<text x="452.90" y="534.40" font-size="9.2" fill="#1c1c1c" stroke="#1c1c1c" stroke-width="0.15" text-anchor="middle" textLength="4.60" lengthAdjust="spacingAndGlyphs" >5</text>
<line x1="476.30" y1="465.38" x2="476.30" y2="474.49" stroke="#222" stroke-width="1.1" />
<line x1="474.20" y1="465.38" x2="478.40" y2="465.38" stroke="#222" stroke-width="1.1" />
<rect x="473.00" y="473.49" width="6.70" height="45.76" fill="#62a8df" />
<line x1="486.95" y1="497.85" x2="486.95" y2="501.80" stroke="#222" stroke-width="1.1" />
<line x1="484.85" y1="497.85" x2="489.05" y2="497.85" stroke="#222" stroke-width="1.1" />
<rect x="483.50" y="500.80" width="6.90" height="18.45" fill="#2d5d46" />
<line x1="481.50" y1="519.25" x2="481.50" y2="522.45" stroke="#000" stroke-width="1.1" />
<text x="481.50" y="534.40" font-size="9.2" fill="#1c1c1c" stroke="#1c1c1c" stroke-width="0.15" text-anchor="middle" textLength="9.20" lengthAdjust="spacingAndGlyphs" >20</text>
<text x="349.50" y="548.80" font-size="10.8" fill="#1c1c1c" stroke="#1c1c1c" stroke-width="0.15" textLength="122.00" lengthAdjust="spacingAndGlyphs" >Hematoxylin concentration [μM]</text>
<text x="299.50" y="462.90" font-size="10.6" fill="#1c1c1c" stroke="#1c1c1c" stroke-width="0.15" text-anchor="middle" textLength="82.60" lengthAdjust="spacingAndGlyphs" transform="rotate(-90 299.50 462.90)" >Normalized BRET ratio</text>
<path d="M333.30,413 L333.30,409.3 L476.30,409.3 L476.30,436" stroke="#222" stroke-width="1.1" fill="none" />
<path d="M333.30,423.8 L333.30,420.4 L447.70,420.4 L447.70,434" stroke="#222" stroke-width="1.1" fill="none" />
<path d="M390.50,440 L390.50,437.2 L447.70,437.2 L447.70,441.5" stroke="#222" stroke-width="1.1" fill="none" />
<path d="M447.70,448.5 L447.70,446.2 L476.30,446.2 L476.30,454" stroke="#222" stroke-width="1.1" fill="none" />
<text x="404.50" y="410.00" font-size="9.0" fill="#1c1c1c" text-anchor="middle" >****</text>
<text x="390.50" y="421.30" font-size="9.0" fill="#1c1c1c" text-anchor="middle" >**</text>
<text x="418.90" y="437.20" font-size="9.0" fill="#1c1c1c" text-anchor="middle" >*</text>
<text x="461.20" y="447.20" font-size="9.0" fill="#1c1c1c" text-anchor="middle" >**</text>
<rect x="480.00" y="416.20" width="8.40" height="3.80" fill="#62a8df" />
<rect x="480.00" y="427.70" width="8.40" height="3.80" fill="#2d5d46" />
<text x="492.30" y="420.90" font-size="9.8" fill="#1c1c1c" stroke="#1c1c1c" stroke-width="0.15" textLength="16.50" lengthAdjust="spacingAndGlyphs" >MPL</text>
<text x="492.30" y="432.40" font-size="9.8" fill="#1c1c1c" stroke="#1c1c1c" stroke-width="0.15" textLength="20.20" lengthAdjust="spacingAndGlyphs" >EpoR</text>
<text x="7.50" y="579.10" font-size="12.4" fill="#000" stroke="#000" stroke-width="0.35" font-weight="bold" >G</text>
<text x="30.80" y="590.30" font-size="9.3" fill="#1c1c1c" stroke="#1c1c1c" stroke-width="0.15" textLength="62.80" lengthAdjust="spacingAndGlyphs" >Temperature °C</text>
<text x="108.00" y="587.60" font-size="9.4" fill="#1c1c1c" stroke="#1c1c1c" stroke-width="0.1" text-anchor="middle" textLength="9.30" lengthAdjust="spacingAndGlyphs" transform="rotate(-90 108.00 587.60)" >45</text>
<text x="118.00" y="587.60" font-size="9.4" fill="#1c1c1c" stroke="#1c1c1c" stroke-width="0.1" text-anchor="middle" textLength="9.30" lengthAdjust="spacingAndGlyphs" transform="rotate(-90 118.00 587.60)" >50</text>
<text x="128.00" y="587.60" font-size="9.4" fill="#1c1c1c" stroke="#1c1c1c" stroke-width="0.1" text-anchor="middle" textLength="9.30" lengthAdjust="spacingAndGlyphs" transform="rotate(-90 128.00 587.60)" >55</text>
<text x="138.00" y="587.60" font-size="9.4" fill="#1c1c1c" stroke="#1c1c1c" stroke-width="0.1" text-anchor="middle" textLength="9.30" lengthAdjust="spacingAndGlyphs" transform="rotate(-90 138.00 587.60)" >60</text>
<text x="148.00" y="587.60" font-size="9.4" fill="#1c1c1c" stroke="#1c1c1c" stroke-width="0.1" text-anchor="middle" textLength="9.30" lengthAdjust="spacingAndGlyphs" transform="rotate(-90 148.00 587.60)" >65</text>
<text x="158.00" y="587.60" font-size="9.4" fill="#1c1c1c" stroke="#1c1c1c" stroke-width="0.1" text-anchor="middle" textLength="9.30" lengthAdjust="spacingAndGlyphs" transform="rotate(-90 158.00 587.60)" >70</text>
<text x="168.00" y="587.60" font-size="9.4" fill="#1c1c1c" stroke="#1c1c1c" stroke-width="0.1" text-anchor="middle" textLength="9.30" lengthAdjust="spacingAndGlyphs" transform="rotate(-90 168.00 587.60)" >75</text>
<text x="184.30" y="587.60" font-size="9.4" fill="#1c1c1c" stroke="#1c1c1c" stroke-width="0.1" text-anchor="middle" textLength="9.30" lengthAdjust="spacingAndGlyphs" transform="rotate(-90 184.30 587.60)" >45</text>
<text x="194.30" y="587.60" font-size="9.4" fill="#1c1c1c" stroke="#1c1c1c" stroke-width="0.1" text-anchor="middle" textLength="9.30" lengthAdjust="spacingAndGlyphs" transform="rotate(-90 194.30 587.60)" >50</text>
<text x="204.30" y="587.60" font-size="9.4" fill="#1c1c1c" stroke="#1c1c1c" stroke-width="0.1" text-anchor="middle" textLength="9.30" lengthAdjust="spacingAndGlyphs" transform="rotate(-90 204.30 587.60)" >55</text>
<text x="214.30" y="587.60" font-size="9.4" fill="#1c1c1c" stroke="#1c1c1c" stroke-width="0.1" text-anchor="middle" textLength="9.30" lengthAdjust="spacingAndGlyphs" transform="rotate(-90 214.30 587.60)" >60</text>
<text x="224.30" y="587.60" font-size="9.4" fill="#1c1c1c" stroke="#1c1c1c" stroke-width="0.1" text-anchor="middle" textLength="9.30" lengthAdjust="spacingAndGlyphs" transform="rotate(-90 224.30 587.60)" >65</text>
<text x="234.30" y="587.60" font-size="9.4" fill="#1c1c1c" stroke="#1c1c1c" stroke-width="0.1" text-anchor="middle" textLength="9.30" lengthAdjust="spacingAndGlyphs" transform="rotate(-90 234.30 587.60)" >70</text>
<text x="244.30" y="587.60" font-size="9.4" fill="#1c1c1c" stroke="#1c1c1c" stroke-width="0.1" text-anchor="middle" textLength="9.30" lengthAdjust="spacingAndGlyphs" transform="rotate(-90 244.30 587.60)" >75</text>
<text x="134.20" y="576.30" font-size="9.6" fill="#1c1c1c" stroke="#1c1c1c" stroke-width="0.15" text-anchor="middle" textLength="26.80" lengthAdjust="spacingAndGlyphs" >DMSO</text>
<line x1="101.00" y1="579.40" x2="168.00" y2="579.40" stroke="#111" stroke-width="1.1" />
<text x="210.40" y="576.30" font-size="9.6" fill="#1c1c1c" stroke="#1c1c1c" stroke-width="0.15" text-anchor="middle" textLength="42.00" lengthAdjust="spacingAndGlyphs" >HEM 1 mM</text>
<line x1="176.60" y1="579.40" x2="244.30" y2="579.40" stroke="#111" stroke-width="1.1" />
<rect x="96.80" y="596.20" width="151.60" height="18.40" fill="#b6b6b6" />
<rect x="96.80" y="621.50" width="151.60" height="18.30" fill="#acacac" />
<rect x="96.80" y="645.40" width="151.60" height="20.30" fill="#b3b3b3" />
<text x="93.60" y="608.20" font-size="9.4" fill="#1c1c1c" stroke="#1c1c1c" stroke-width="0.05" text-anchor="end" textLength="40.90" lengthAdjust="spacingAndGlyphs" >CALR ins5</text>
<text x="93.60" y="632.90" font-size="9.4" fill="#1c1c1c" stroke="#1c1c1c" stroke-width="0.05" text-anchor="end" textLength="38.80" lengthAdjust="spacingAndGlyphs" >CALR WT</text>
<text x="93.60" y="657.40" font-size="9.4" fill="#1c1c1c" stroke="#1c1c1c" stroke-width="0.05" text-anchor="end" textLength="17.60" lengthAdjust="spacingAndGlyphs" >MPL</text>
<ellipse cx="103.00" cy="604.90" rx="4.80" ry="2.70" fill="#0a0a0a" fill-opacity="1.00" filter="url(#blur)"/>
<ellipse cx="103.00" cy="630.40" rx="6.80" ry="3.60" fill="#0a0a0a" fill-opacity="1.00" filter="url(#blur)"/>
<ellipse cx="103.00" cy="655.20" rx="6.30" ry="2.80" fill="#0a0a0a" fill-opacity="1.00" filter="url(#blur)"/>
<ellipse cx="113.50" cy="604.90" rx="4.55" ry="1.90" fill="#0a0a0a" fill-opacity="0.70" filter="url(#blur)"/>
<ellipse cx="113.50" cy="630.40" rx="5.55" ry="2.80" fill="#0a0a0a" fill-opacity="1.00" filter="url(#blur)"/>
<ellipse cx="113.50" cy="655.05" rx="5.80" ry="2.60" fill="#0a0a0a" fill-opacity="1.00" filter="url(#blur)"/>
<ellipse cx="124.20" cy="604.90" rx="4.30" ry="1.70" fill="#0a0a0a" fill-opacity="0.30" filter="url(#blur)"/>
<ellipse cx="124.20" cy="630.40" rx="5.05" ry="2.10" fill="#0a0a0a" fill-opacity="0.95" filter="url(#blur)"/>
<ellipse cx="124.20" cy="654.90" rx="5.30" ry="2.20" fill="#0a0a0a" fill-opacity="0.95" filter="url(#blur)"/>
<ellipse cx="135.80" cy="630.40" rx="4.55" ry="1.80" fill="#0a0a0a" fill-opacity="0.70" filter="url(#blur)"/>
<ellipse cx="135.80" cy="654.75" rx="5.30" ry="2.30" fill="#0a0a0a" fill-opacity="0.95" filter="url(#blur)"/>
<ellipse cx="147.00" cy="630.40" rx="4.30" ry="1.60" fill="#0a0a0a" fill-opacity="0.15" filter="url(#blur)"/>
<ellipse cx="147.00" cy="654.60" rx="4.55" ry="1.70" fill="#0a0a0a" fill-opacity="0.45" filter="url(#blur)"/>
<ellipse cx="157.30" cy="630.40" rx="4.30" ry="1.60" fill="#0a0a0a" fill-opacity="0.10" filter="url(#blur)"/>
<ellipse cx="157.30" cy="654.45" rx="4.30" ry="1.60" fill="#0a0a0a" fill-opacity="0.12" filter="url(#blur)"/>
<ellipse cx="167.30" cy="630.40" rx="4.30" ry="1.60" fill="#0a0a0a" fill-opacity="0.08" filter="url(#blur)"/>
<ellipse cx="167.30" cy="654.30" rx="3.80" ry="1.60" fill="#0a0a0a" fill-opacity="0.05" filter="url(#blur)"/>
<ellipse cx="178.90" cy="604.90" rx="5.55" ry="2.60" fill="#0a0a0a" fill-opacity="1.00" filter="url(#blur)"/>
<ellipse cx="178.90" cy="630.40" rx="6.30" ry="3.60" fill="#0a0a0a" fill-opacity="1.00" filter="url(#blur)"/>
<ellipse cx="178.90" cy="655.20" rx="5.80" ry="2.60" fill="#0a0a0a" fill-opacity="1.00" filter="url(#blur)"/>
<ellipse cx="190.00" cy="604.90" rx="5.30" ry="2.30" fill="#0a0a0a" fill-opacity="0.95" filter="url(#blur)"/>
<ellipse cx="190.00" cy="630.40" rx="5.80" ry="3.20" fill="#0a0a0a" fill-opacity="1.00" filter="url(#blur)"/>
<ellipse cx="190.00" cy="655.05" rx="5.55" ry="2.40" fill="#0a0a0a" fill-opacity="1.00" filter="url(#blur)"/>
<ellipse cx="201.20" cy="604.90" rx="5.30" ry="2.30" fill="#0a0a0a" fill-opacity="0.95" filter="url(#blur)"/>
<ellipse cx="201.20" cy="630.40" rx="5.80" ry="3.20" fill="#0a0a0a" fill-opacity="1.00" filter="url(#blur)"/>
<ellipse cx="201.20" cy="654.90" rx="5.30" ry="2.20" fill="#0a0a0a" fill-opacity="0.95" filter="url(#blur)"/>
<ellipse cx="211.80" cy="604.90" rx="5.05" ry="2.10" fill="#0a0a0a" fill-opacity="0.85" filter="url(#blur)"/>
<ellipse cx="211.80" cy="630.40" rx="5.80" ry="3.60" fill="#0a0a0a" fill-opacity="1.00" filter="url(#blur)"/>
<ellipse cx="211.80" cy="654.75" rx="4.80" ry="2.00" fill="#0a0a0a" fill-opacity="0.80" filter="url(#blur)"/>
<ellipse cx="223.10" cy="604.90" rx="4.80" ry="2.10" fill="#0a0a0a" fill-opacity="0.80" filter="url(#blur)"/>
<ellipse cx="223.10" cy="630.40" rx="5.05" ry="2.00" fill="#0a0a0a" fill-opacity="0.90" filter="url(#blur)"/>
<ellipse cx="223.10" cy="654.60" rx="4.30" ry="1.60" fill="#0a0a0a" fill-opacity="0.40" filter="url(#blur)"/>
<ellipse cx="233.40" cy="604.90" rx="4.30" ry="1.70" fill="#0a0a0a" fill-opacity="0.35" filter="url(#blur)"/>
<ellipse cx="233.40" cy="630.40" rx="5.05" ry="2.00" fill="#0a0a0a" fill-opacity="0.90" filter="url(#blur)"/>
<ellipse cx="233.40" cy="654.45" rx="4.30" ry="1.60" fill="#0a0a0a" fill-opacity="0.15" filter="url(#blur)"/>
<ellipse cx="243.50" cy="604.90" rx="3.80" ry="1.60" fill="#0a0a0a" fill-opacity="0.06" filter="url(#blur)"/>
<ellipse cx="243.50" cy="630.40" rx="4.55" ry="2.00" fill="#0a0a0a" fill-opacity="0.85" filter="url(#blur)"/>
<ellipse cx="243.50" cy="654.30" rx="3.80" ry="1.60" fill="#0a0a0a" fill-opacity="0.08" filter="url(#blur)"/>
<ellipse cx="99.00" cy="664.00" rx="2.80" ry="1.60" fill="#0a0a0a" fill-opacity="0.60" filter="url(#blur)"/>
<text x="355.00" y="576.20" font-size="9.3" fill="#1c1c1c" stroke="#1c1c1c" stroke-width="0.15" text-anchor="end" textLength="61.50" lengthAdjust="spacingAndGlyphs" >HEM treatment</text>
<text x="355.00" y="590.40" font-size="9.3" fill="#1c1c1c" stroke="#1c1c1c" stroke-width="0.15" text-anchor="end" textLength="62.60" lengthAdjust="spacingAndGlyphs" >Temperature °C</text>
<text x="355.00" y="609.90" font-size="9.4" fill="#1c1c1c" stroke="#1c1c1c" stroke-width="0.05" text-anchor="end" textLength="40.50" lengthAdjust="spacingAndGlyphs" >CALR ins5</text>
<rect x="358.80" y="596.50" width="151.10" height="20.90" fill="#c5c5c5" />
<text x="368.80" y="587.60" font-size="9.4" fill="#1c1c1c" stroke="#1c1c1c" stroke-width="0.1" text-anchor="middle" textLength="9.30" lengthAdjust="spacingAndGlyphs" transform="rotate(-90 368.80 587.60)" >45</text>
<text x="381.50" y="587.60" font-size="9.4" fill="#1c1c1c" stroke="#1c1c1c" stroke-width="0.1" text-anchor="middle" textLength="9.30" lengthAdjust="spacingAndGlyphs" transform="rotate(-90 381.50 587.60)" >49</text>
<text x="393.10" y="587.60" font-size="9.4" fill="#1c1c1c" stroke="#1c1c1c" stroke-width="0.1" text-anchor="middle" textLength="9.30" lengthAdjust="spacingAndGlyphs" transform="rotate(-90 393.10 587.60)" >54</text>
<text x="406.20" y="587.60" font-size="9.4" fill="#1c1c1c" stroke="#1c1c1c" stroke-width="0.1" text-anchor="middle" textLength="9.30" lengthAdjust="spacingAndGlyphs" transform="rotate(-90 406.20 587.60)" >45</text>
<text x="416.70" y="587.60" font-size="9.4" fill="#1c1c1c" stroke="#1c1c1c" stroke-width="0.1" text-anchor="middle" textLength="9.30" lengthAdjust="spacingAndGlyphs" transform="rotate(-90 416.70 587.60)" >49</text>
<text x="429.30" y="587.60" font-size="9.4" fill="#1c1c1c" stroke="#1c1c1c" stroke-width="0.1" text-anchor="middle" textLength="9.30" lengthAdjust="spacingAndGlyphs" transform="rotate(-90 429.30 587.60)" >54</text>
<text x="444.90" y="587.60" font-size="9.4" fill="#1c1c1c" stroke="#1c1c1c" stroke-width="0.1" text-anchor="middle" textLength="9.30" lengthAdjust="spacingAndGlyphs" transform="rotate(-90 444.90 587.60)" >45</text>
<text x="456.20" y="587.60" font-size="9.4" fill="#1c1c1c" stroke="#1c1c1c" stroke-width="0.1" text-anchor="middle" textLength="9.30" lengthAdjust="spacingAndGlyphs" transform="rotate(-90 456.20 587.60)" >49</text>
<text x="468.30" y="587.60" font-size="9.4" fill="#1c1c1c" stroke="#1c1c1c" stroke-width="0.1" text-anchor="middle" textLength="9.30" lengthAdjust="spacingAndGlyphs" transform="rotate(-90 468.30 587.60)" >54</text>
<text x="483.70" y="587.60" font-size="9.4" fill="#1c1c1c" stroke="#1c1c1c" stroke-width="0.1" text-anchor="middle" textLength="9.30" lengthAdjust="spacingAndGlyphs" transform="rotate(-90 483.70 587.60)" >45</text>
<text x="494.40" y="587.60" font-size="9.4" fill="#1c1c1c" stroke="#1c1c1c" stroke-width="0.1" text-anchor="middle" textLength="9.30" lengthAdjust="spacingAndGlyphs" transform="rotate(-90 494.40 587.60)" >49</text>
<text x="506.80" y="587.60" font-size="9.4" fill="#1c1c1c" stroke="#1c1c1c" stroke-width="0.1" text-anchor="middle" textLength="9.30" lengthAdjust="spacingAndGlyphs" transform="rotate(-90 506.80 587.60)" >54</text>
<line x1="360.40" y1="579.50" x2="394.80" y2="579.50" stroke="#111" stroke-width="1.1" />
<text x="377.90" y="576.30" font-size="9.6" fill="#1c1c1c" stroke="#1c1c1c" stroke-width="0.15" text-anchor="middle" textLength="26.70" lengthAdjust="spacingAndGlyphs" >DMSO</text>
<line x1="397.50" y1="579.50" x2="431.20" y2="579.50" stroke="#111" stroke-width="1.1" />
<text x="414.50" y="576.30" font-size="9.6" fill="#1c1c1c" stroke="#1c1c1c" stroke-width="0.15" text-anchor="middle" textLength="26.00" lengthAdjust="spacingAndGlyphs" >10 μM</text>
<line x1="435.20" y1="579.50" x2="468.90" y2="579.50" stroke="#111" stroke-width="1.1" />
<text x="452.70" y="576.30" font-size="9.6" fill="#1c1c1c" stroke="#1c1c1c" stroke-width="0.15" text-anchor="middle" textLength="31.00" lengthAdjust="spacingAndGlyphs" >100 μM</text>
<line x1="474.20" y1="579.50" x2="509.20" y2="579.50" stroke="#111" stroke-width="1.1" />
<text x="491.70" y="576.30" font-size="9.6" fill="#1c1c1c" stroke="#1c1c1c" stroke-width="0.15" text-anchor="middle" textLength="23.00" lengthAdjust="spacingAndGlyphs" >1 mM</text>
<ellipse cx="365.00" cy="607.10" rx="6.20" ry="2.85" fill="#0a0a0a" fill-opacity="1.00" filter="url(#blur)"/>
<ellipse cx="378.30" cy="607.10" rx="5.95" ry="2.10" fill="#0a0a0a" fill-opacity="0.95" filter="url(#blur)"/>
<ellipse cx="390.40" cy="607.10" rx="4.65" ry="1.60" fill="#0a0a0a" fill-opacity="0.55" filter="url(#blur)"/>
<ellipse cx="402.40" cy="607.10" rx="6.40" ry="2.85" fill="#0a0a0a" fill-opacity="1.00" filter="url(#blur)"/>
<ellipse cx="414.80" cy="607.10" rx="5.60" ry="2.10" fill="#0a0a0a" fill-opacity="0.95" filter="url(#blur)"/>
<ellipse cx="427.30" cy="607.10" rx="5.40" ry="1.60" fill="#0a0a0a" fill-opacity="0.50" filter="url(#blur)"/>
<ellipse cx="440.00" cy="607.10" rx="5.80" ry="2.35" fill="#0a0a0a" fill-opacity="1.00" filter="url(#blur)"/>
<ellipse cx="452.00" cy="607.10" rx="5.40" ry="2.10" fill="#0a0a0a" fill-opacity="0.95" filter="url(#blur)"/>
<ellipse cx="465.00" cy="607.10" rx="5.40" ry="1.70" fill="#0a0a0a" fill-opacity="0.45" filter="url(#blur)"/>
<ellipse cx="477.00" cy="607.10" rx="5.80" ry="2.35" fill="#0a0a0a" fill-opacity="1.00" filter="url(#blur)"/>
<ellipse cx="489.60" cy="607.10" rx="6.20" ry="2.60" fill="#0a0a0a" fill-opacity="1.00" filter="url(#blur)"/>
<ellipse cx="503.00" cy="607.10" rx="6.40" ry="2.85" fill="#0a0a0a" fill-opacity="1.00" filter="url(#blur)"/>
<ellipse cx="365.00" cy="600.50" rx="4.30" ry="1.40" fill="#0a0a0a" fill-opacity="0.12" filter="url(#blur)"/>
<ellipse cx="402.40" cy="600.50" rx="4.30" ry="1.40" fill="#0a0a0a" fill-opacity="0.12" filter="url(#blur)"/>
<ellipse cx="440.00" cy="600.50" rx="4.30" ry="1.40" fill="#0a0a0a" fill-opacity="0.12" filter="url(#blur)"/>
<g shape-rendering="crispEdges"><rect x="0" y="1" width="520" height="1" fill="#e4e4e4"/><rect x="1" y="0" width="1" height="674" fill="#d4d4d4"/><rect x="518" y="0" width="1" height="674" fill="#9a9a9a"/><rect x="0" y="672" width="520" height="1" fill="#8a8a8a"/><rect x="0" y="0" width="520" height="1" fill="#000"/><rect x="0" y="0" width="1" height="674" fill="#000"/><rect x="519" y="0" width="1" height="674" fill="#000"/><rect x="0" y="673" width="520" height="1" fill="#000"/></g></svg></body></html>
